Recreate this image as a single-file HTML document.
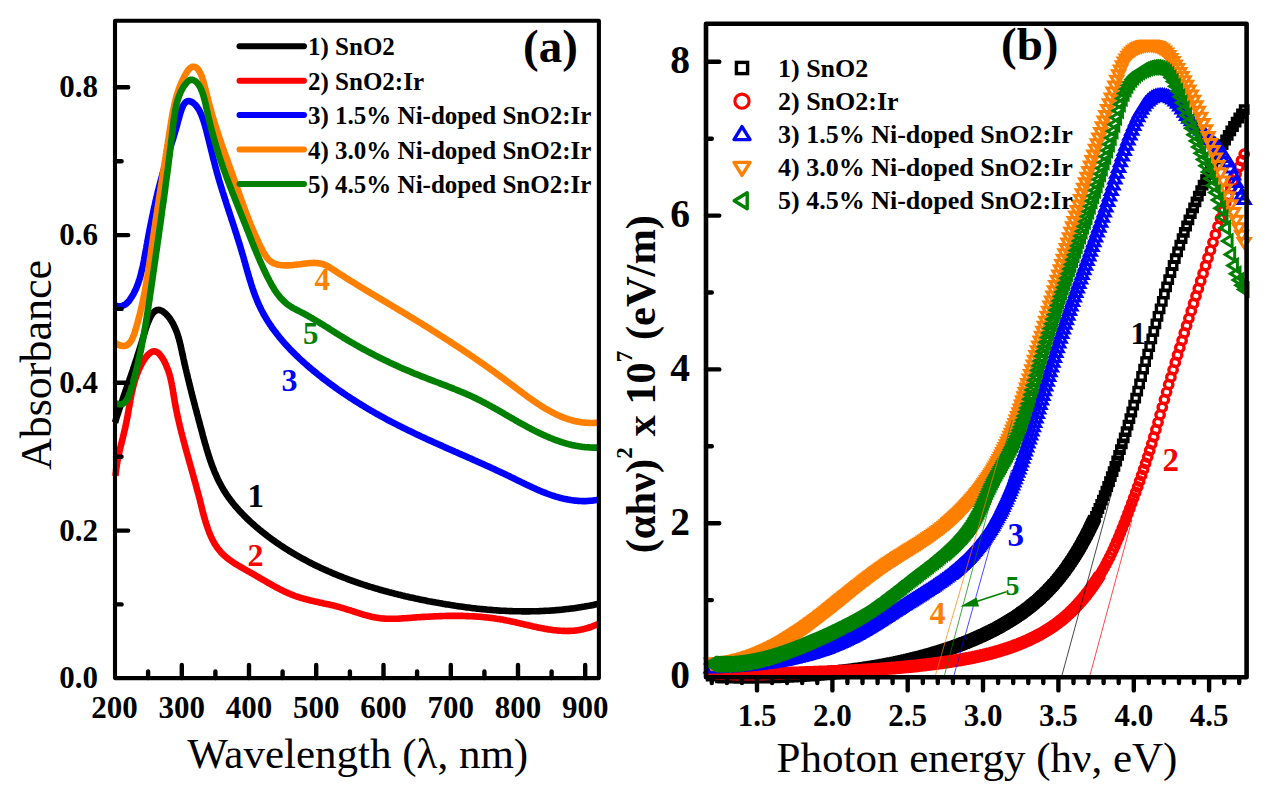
<!DOCTYPE html><html><head><meta charset="utf-8"><style>html,body{margin:0;padding:0;background:#fff;}svg{display:block;}text{font-family:"Liberation Serif",serif;}</style></head><body><svg width="1271" height="797" viewBox="0 0 1271 797"><rect width="1271" height="797" fill="#fff"/><path d="M115.0,422.6 115.5,421.1 116.0,419.5 116.4,418.0 116.9,416.5 117.4,415.0 117.9,413.6 118.4,412.1 118.8,410.7 119.3,409.2 119.8,407.8 120.3,406.4 120.7,405.0 121.2,403.6 121.7,402.2 122.2,400.8 122.6,399.5 123.1,398.1 123.6,396.7 124.0,395.4 124.5,394.0 125.0,392.7 125.4,391.3 125.9,390.0 126.4,388.7 126.8,387.3 127.3,386.0 127.8,384.6 128.3,383.3 128.7,381.9 129.2,380.6 129.7,379.2 130.1,377.9 130.6,376.5 131.1,375.2 131.5,373.8 132.0,372.4 132.5,371.0 133.0,369.6 133.4,368.2 133.9,366.8 134.4,365.4 134.9,363.9 135.3,362.5 135.8,361.0 136.3,359.6 136.8,358.1 137.3,356.6 137.7,355.1 138.2,353.6 138.7,352.0 139.2,350.4 139.7,348.9 140.2,347.3 140.7,345.7 141.2,344.0 141.7,342.4 142.2,340.7 142.7,339.0 143.2,337.3 143.7,335.6 144.2,333.9 144.7,332.2 145.2,330.5 145.7,328.8 146.3,327.2 146.8,325.6 147.4,324.1 148.0,322.5 148.6,321.1 149.2,319.7 149.8,318.4 150.4,317.1 151.1,315.9 151.7,314.8 152.4,313.8 153.1,312.9 153.9,312.1 154.6,311.4 155.4,310.9 156.2,310.4 157.0,310.1 157.8,310.0 158.7,309.9 159.6,310.0 160.5,310.3 161.5,310.7 162.4,311.2 163.4,311.8 164.3,312.6 165.3,313.4 166.3,314.3 167.2,315.4 168.2,316.4 169.1,317.6 170.0,318.8 170.8,320.1 171.7,321.4 172.5,322.7 173.2,324.1 173.9,325.5 174.6,326.9 175.2,328.3 175.8,329.8 176.4,331.3 177.0,332.8 177.5,334.3 178.0,335.8 178.4,337.3 178.9,338.8 179.3,340.4 179.7,341.9 180.1,343.5 180.5,345.0 180.8,346.6 181.2,348.2 181.5,349.7 181.9,351.3 182.2,352.8 182.5,354.4 182.9,355.9 183.2,357.5 183.5,359.0 183.9,360.5 184.2,362.0 184.5,363.6 184.9,365.1 185.2,366.6 185.6,368.1 185.9,369.5 186.3,371.0 186.6,372.5 187.0,374.0 187.3,375.4 187.7,376.9 188.0,378.3 188.4,379.8 188.7,381.2 189.1,382.7 189.4,384.1 189.8,385.6 190.1,387.0 190.5,388.4 190.9,389.9 191.2,391.3 191.6,392.7 191.9,394.1 192.3,395.6 192.7,397.0 193.0,398.4 193.4,399.8 193.8,401.2 194.1,402.6 194.5,404.0 194.9,405.4 195.2,406.9 195.6,408.3 196.0,409.7 196.4,411.1 196.7,412.5 197.1,413.9 197.5,415.3 197.9,416.7 198.2,418.2 198.6,419.6 199.0,421.0 199.4,422.4 199.8,423.8 200.1,425.3 200.5,426.7 200.9,428.1 201.3,429.5 201.7,431.0 202.1,432.4 202.5,433.9 202.8,435.3 203.2,436.8 203.6,438.2 204.0,439.6 204.4,441.1 204.8,442.5 205.2,444.0 205.7,445.4 206.1,446.9 206.5,448.3 206.9,449.8 207.4,451.2 207.8,452.7 208.2,454.1 208.7,455.6 209.2,457.0 209.6,458.4 210.1,459.9 210.6,461.3 211.1,462.7 211.6,464.1 212.1,465.6 212.7,467.0 213.2,468.4 213.8,469.8 214.3,471.2 214.9,472.6 215.5,473.9 216.1,475.3 216.7,476.7 217.3,478.0 217.9,479.4 218.6,480.7 219.3,482.1 220.0,483.4 220.7,484.7 221.4,486.0 222.1,487.3 222.8,488.6 223.6,489.9 224.4,491.2 225.2,492.4 226.0,493.7 226.8,494.9 227.7,496.1 228.5,497.4 229.4,498.6 230.3,499.8 231.2,501.0 232.1,502.1 233.0,503.3 234.0,504.5 234.9,505.6 235.9,506.8 236.9,507.9 237.9,509.0 238.9,510.1 239.9,511.3 240.9,512.4 241.9,513.4 243.0,514.5 244.0,515.6 245.1,516.7 246.1,517.7 247.2,518.8 248.3,519.8 249.4,520.8 250.5,521.9 251.6,522.9 252.7,523.9 253.9,524.9 255.0,525.9 256.1,526.9 257.3,527.8 258.4,528.8 259.6,529.8 260.8,530.7 261.9,531.7 263.1,532.6 264.3,533.5 265.5,534.4 266.7,535.4 267.8,536.3 269.0,537.2 270.2,538.1 271.4,538.9 272.6,539.8 273.9,540.7 275.1,541.6 276.3,542.4 277.5,543.3 278.8,544.1 280.0,544.9 281.2,545.8 282.5,546.6 283.7,547.4 285.0,548.2 286.2,549.0 287.5,549.8 288.7,550.6 290.0,551.4 291.3,552.2 292.5,552.9 293.8,553.7 295.1,554.4 296.4,555.2 297.7,555.9 299.0,556.7 300.3,557.4 301.6,558.1 302.9,558.8 304.2,559.5 305.5,560.2 306.8,560.9 308.1,561.6 309.4,562.3 310.8,563.0 312.1,563.7 313.4,564.3 314.7,565.0 316.1,565.6 317.4,566.3 318.8,566.9 320.1,567.6 321.5,568.2 322.8,568.8 324.2,569.4 325.5,570.0 326.9,570.6 328.2,571.2 329.6,571.8 331.0,572.4 332.3,573.0 333.7,573.6 335.1,574.2 336.5,574.7 337.9,575.3 339.2,575.8 340.6,576.4 342.0,576.9 343.4,577.5 344.8,578.0 346.2,578.5 347.6,579.1 349.0,579.6 350.4,580.1 351.8,580.6 353.2,581.1 354.6,581.6 356.0,582.1 357.4,582.6 358.9,583.1 360.3,583.6 361.7,584.0 363.1,584.5 364.5,585.0 366.0,585.4 367.4,585.9 368.8,586.3 370.3,586.8 371.7,587.2 373.1,587.6 374.6,588.1 376.0,588.5 377.5,588.9 378.9,589.3 380.3,589.8 381.8,590.2 383.2,590.6 384.7,591.0 386.1,591.4 387.6,591.8 389.0,592.2 390.5,592.5 391.9,592.9 393.4,593.3 394.8,593.7 396.3,594.0 397.8,594.4 399.2,594.8 400.7,595.1 402.2,595.5 403.6,595.8 405.1,596.2 406.5,596.5 408.0,596.8 409.5,597.2 410.9,597.5 412.4,597.8 413.9,598.1 415.4,598.5 416.8,598.8 418.3,599.1 419.8,599.4 421.2,599.7 422.7,600.0 424.2,600.3 425.7,600.6 427.1,600.9 428.6,601.2 430.1,601.4 431.6,601.7 433.0,602.0 434.5,602.3 436.0,602.6 437.5,602.8 438.9,603.1 440.4,603.3 441.9,603.6 443.4,603.9 444.9,604.1 446.3,604.4 447.8,604.6 449.3,604.8 450.8,605.1 452.3,605.3 453.7,605.5 455.2,605.8 456.7,606.0 458.2,606.2 459.7,606.4 461.1,606.6 462.6,606.8 464.1,607.0 465.6,607.2 467.1,607.4 468.6,607.6 470.0,607.8 471.5,608.0 473.0,608.2 474.5,608.3 476.0,608.5 477.5,608.7 478.9,608.8 480.4,609.0 481.9,609.1 483.4,609.3 484.9,609.4 486.4,609.5 487.8,609.7 489.3,609.8 490.8,609.9 492.3,610.0 493.8,610.2 495.3,610.3 496.8,610.4 498.3,610.5 499.7,610.6 501.2,610.7 502.7,610.7 504.2,610.8 505.7,610.9 507.2,611.0 508.7,611.0 510.1,611.1 511.6,611.1 513.1,611.2 514.6,611.2 516.1,611.3 517.6,611.3 519.1,611.3 520.6,611.3 522.1,611.4 523.5,611.4 525.0,611.4 526.5,611.4 528.0,611.4 529.5,611.4 531.0,611.3 532.5,611.3 534.0,611.3 535.5,611.2 536.9,611.2 538.4,611.2 539.9,611.1 541.4,611.0 542.9,611.0 544.4,610.9 545.9,610.8 547.4,610.7 548.9,610.7 550.3,610.6 551.8,610.5 553.3,610.4 554.8,610.2 556.3,610.1 557.8,610.0 559.3,609.9 560.8,609.7 562.3,609.6 563.8,609.4 565.2,609.3 566.7,609.1 568.2,608.9 569.7,608.7 571.2,608.5 572.7,608.4 574.2,608.2 575.7,607.9 577.2,607.7 578.6,607.5 580.1,607.3 581.6,607.1 583.1,606.8 584.6,606.6 586.1,606.3 587.6,606.0 589.1,605.8 590.6,605.5 592.0,605.2 593.5,604.9 595.0,604.6 596.5,604.3 598.0,604.0" fill="none" stroke="#000000" stroke-width="6.6" stroke-linejoin="round" stroke-linecap="butt"/><path d="M115.5,476.0 115.6,474.4 115.8,472.9 116.0,471.3 116.1,469.8 116.3,468.3 116.6,466.8 116.8,465.3 117.0,463.8 117.3,462.3 117.5,460.8 117.8,459.3 118.1,457.9 118.4,456.4 118.7,455.0 119.0,453.5 119.3,452.1 119.7,450.7 120.0,449.2 120.3,447.8 120.7,446.4 121.0,444.9 121.4,443.5 121.7,442.1 122.1,440.7 122.4,439.3 122.8,437.8 123.1,436.4 123.5,435.0 123.8,433.6 124.2,432.1 124.5,430.7 124.8,429.3 125.2,427.8 125.5,426.4 125.8,424.9 126.1,423.4 126.4,422.0 126.7,420.5 127.0,419.0 127.3,417.5 127.6,416.0 127.8,414.5 128.1,413.0 128.4,411.5 128.6,410.0 128.9,408.5 129.2,407.0 129.4,405.5 129.7,404.0 130.0,402.5 130.2,400.9 130.5,399.4 130.8,397.9 131.1,396.4 131.4,394.9 131.7,393.4 132.0,391.9 132.4,390.4 132.7,388.9 133.1,387.4 133.4,385.9 133.8,384.4 134.2,383.0 134.7,381.5 135.1,380.0 135.5,378.6 136.0,377.1 136.5,375.7 137.0,374.3 137.6,372.9 138.1,371.5 138.7,370.1 139.3,368.7 140.0,367.4 140.6,366.0 141.3,364.7 142.0,363.3 142.8,362.0 143.6,360.7 144.4,359.5 145.2,358.3 146.1,357.1 146.9,356.0 147.8,355.0 148.8,354.1 149.7,353.3 150.7,352.6 151.6,352.0 152.6,351.7 153.6,351.4 154.6,351.4 155.5,351.5 156.5,351.9 157.5,352.5 158.5,353.2 159.5,354.2 160.4,355.4 161.4,356.6 162.3,358.0 163.2,359.4 164.0,360.9 164.8,362.4 165.5,363.9 166.2,365.4 166.8,366.9 167.4,368.4 168.0,369.9 168.5,371.4 169.0,372.9 169.5,374.4 169.9,375.9 170.3,377.5 170.7,379.0 171.0,380.5 171.3,382.0 171.7,383.5 171.9,385.0 172.2,386.6 172.5,388.1 172.8,389.6 173.0,391.1 173.2,392.6 173.5,394.1 173.7,395.6 174.0,397.1 174.2,398.6 174.5,400.1 174.7,401.6 175.0,403.1 175.3,404.6 175.5,406.0 175.8,407.5 176.1,409.0 176.4,410.4 176.7,411.9 177.0,413.4 177.3,414.8 177.6,416.3 177.9,417.7 178.3,419.1 178.6,420.6 178.9,422.0 179.3,423.5 179.6,424.9 179.9,426.3 180.3,427.8 180.6,429.2 181.0,430.6 181.3,432.0 181.7,433.5 182.1,434.9 182.4,436.3 182.8,437.7 183.2,439.1 183.5,440.6 183.9,442.0 184.3,443.4 184.7,444.8 185.1,446.2 185.4,447.6 185.8,449.1 186.2,450.5 186.6,451.9 187.0,453.3 187.4,454.7 187.8,456.2 188.2,457.6 188.6,459.0 189.0,460.4 189.4,461.8 189.8,463.3 190.2,464.7 190.6,466.1 191.0,467.5 191.4,469.0 191.8,470.4 192.2,471.8 192.6,473.3 193.0,474.7 193.4,476.2 193.8,477.6 194.2,479.1 194.6,480.5 195.0,482.0 195.4,483.4 195.8,484.9 196.2,486.3 196.6,487.8 197.0,489.3 197.4,490.8 197.8,492.2 198.2,493.7 198.6,495.2 199.0,496.7 199.4,498.2 199.8,499.7 200.1,501.2 200.5,502.7 200.9,504.2 201.3,505.8 201.7,507.3 202.0,508.8 202.4,510.3 202.8,511.8 203.2,513.4 203.6,514.9 204.0,516.4 204.4,517.9 204.9,519.4 205.3,520.9 205.7,522.3 206.2,523.8 206.7,525.3 207.2,526.7 207.7,528.2 208.2,529.6 208.7,531.0 209.2,532.4 209.8,533.8 210.4,535.2 211.0,536.6 211.6,537.9 212.2,539.2 212.9,540.5 213.6,541.8 214.3,543.1 215.1,544.3 215.8,545.5 216.6,546.7 217.4,547.9 218.3,549.0 219.2,550.1 220.1,551.2 221.0,552.3 222.0,553.3 223.0,554.3 224.0,555.3 225.1,556.3 226.2,557.2 227.3,558.1 228.4,559.0 229.6,559.9 230.7,560.7 231.9,561.5 233.2,562.4 234.4,563.2 235.6,564.0 236.9,564.7 238.2,565.5 239.5,566.3 240.8,567.0 242.1,567.8 243.4,568.5 244.7,569.3 246.0,570.0 247.4,570.8 248.7,571.5 250.0,572.3 251.3,573.0 252.6,573.8 254.0,574.5 255.3,575.3 256.6,576.1 257.9,576.8 259.2,577.6 260.5,578.4 261.8,579.1 263.1,579.9 264.5,580.7 265.8,581.4 267.1,582.2 268.4,583.0 269.7,583.7 271.0,584.4 272.3,585.2 273.6,585.9 275.0,586.6 276.3,587.3 277.6,588.0 278.9,588.7 280.3,589.4 281.6,590.1 282.9,590.7 284.3,591.4 285.6,592.0 287.0,592.6 288.3,593.2 289.7,593.8 291.0,594.4 292.4,594.9 293.8,595.5 295.1,596.0 296.5,596.5 297.9,596.9 299.3,597.4 300.7,597.8 302.1,598.2 303.5,598.6 304.9,599.0 306.4,599.4 307.8,599.8 309.2,600.1 310.6,600.5 312.1,600.8 313.5,601.1 315.0,601.5 316.4,601.8 317.8,602.1 319.3,602.4 320.7,602.7 322.2,603.0 323.6,603.4 325.1,603.7 326.5,604.0 328.0,604.3 329.5,604.6 330.9,605.0 332.4,605.3 333.8,605.6 335.3,606.0 336.7,606.4 338.2,606.8 339.6,607.1 341.1,607.6 342.5,608.0 344.0,608.4 345.4,608.8 346.9,609.3 348.3,609.8 349.7,610.2 351.2,610.7 352.6,611.1 354.1,611.6 355.5,612.1 357.0,612.5 358.4,613.0 359.8,613.5 361.3,613.9 362.7,614.3 364.2,614.8 365.6,615.2 367.1,615.6 368.5,615.9 370.0,616.3 371.4,616.7 372.9,617.0 374.3,617.3 375.8,617.6 377.2,617.8 378.7,618.0 380.2,618.2 381.7,618.4 383.1,618.5 384.6,618.6 386.1,618.7 387.6,618.8 389.0,618.8 390.5,618.8 392.0,618.8 393.5,618.8 395.0,618.8 396.5,618.7 398.0,618.7 399.5,618.6 401.0,618.5 402.5,618.4 404.0,618.3 405.5,618.2 407.0,618.1 408.5,618.0 410.0,617.9 411.5,617.7 413.0,617.6 414.5,617.5 416.0,617.4 417.5,617.3 419.0,617.2 420.5,617.1 421.9,617.0 423.4,616.9 424.9,616.9 426.4,616.8 427.9,616.7 429.4,616.6 430.9,616.5 432.4,616.5 433.9,616.4 435.4,616.3 436.9,616.3 438.4,616.2 439.9,616.1 441.4,616.1 442.9,616.0 444.4,616.0 445.9,616.0 447.4,615.9 448.9,615.9 450.4,615.9 451.9,615.9 453.3,615.9 454.8,615.9 456.3,615.9 457.8,615.9 459.3,615.9 460.8,615.9 462.3,615.9 463.8,616.0 465.3,616.0 466.8,616.1 468.3,616.1 469.8,616.2 471.2,616.2 472.7,616.3 474.2,616.4 475.7,616.5 477.2,616.6 478.7,616.7 480.2,616.8 481.7,616.9 483.1,617.1 484.6,617.2 486.1,617.4 487.6,617.5 489.1,617.7 490.6,617.9 492.0,618.0 493.5,618.2 495.0,618.4 496.5,618.7 498.0,618.9 499.5,619.1 500.9,619.4 502.4,619.6 503.9,619.9 505.4,620.2 506.9,620.5 508.3,620.7 509.8,621.1 511.3,621.4 512.8,621.7 514.3,622.0 515.7,622.3 517.2,622.7 518.7,623.0 520.2,623.4 521.6,623.7 523.1,624.1 524.6,624.4 526.1,624.8 527.5,625.1 529.0,625.4 530.5,625.8 532.0,626.1 533.4,626.5 534.9,626.8 536.4,627.1 537.8,627.4 539.3,627.7 540.8,628.0 542.3,628.3 543.7,628.6 545.2,628.9 546.7,629.1 548.1,629.4 549.6,629.6 551.1,629.8 552.5,630.0 554.0,630.2 555.5,630.3 556.9,630.5 558.4,630.6 559.9,630.7 561.4,630.8 562.8,630.9 564.3,630.9 565.8,631.0 567.2,631.0 568.7,630.9 570.2,630.9 571.6,630.8 573.1,630.7 574.6,630.6 576.0,630.4 577.5,630.2 579.0,630.0 580.4,629.7 581.9,629.5 583.3,629.1 584.8,628.8 586.3,628.4 587.7,628.0 589.2,627.5 590.7,627.0 592.1,626.5 593.6,625.9 595.1,625.3 596.5,624.7 598.0,624.0" fill="none" stroke="#ff0000" stroke-width="6.6" stroke-linejoin="round" stroke-linecap="butt"/><path d="M115.0,305.4 116.9,305.9 118.6,306.2 120.2,306.2 121.7,306.0 123.0,305.6 124.3,305.0 125.5,304.3 126.6,303.4 127.6,302.4 128.6,301.4 129.5,300.2 130.3,299.0 131.1,297.8 131.9,296.6 132.7,295.3 133.4,294.1 134.1,292.8 134.7,291.4 135.4,290.1 136.0,288.8 136.6,287.4 137.1,286.0 137.6,284.7 138.2,283.3 138.6,281.9 139.1,280.4 139.6,279.0 140.0,277.6 140.4,276.1 140.8,274.6 141.2,273.2 141.5,271.7 141.9,270.2 142.2,268.7 142.6,267.3 142.9,265.8 143.2,264.3 143.5,262.8 143.8,261.3 144.1,259.8 144.3,258.3 144.6,256.8 144.9,255.2 145.2,253.8 145.4,252.3 145.7,250.8 146.0,249.3 146.3,247.8 146.5,246.3 146.8,244.8 147.1,243.3 147.3,241.9 147.6,240.4 147.9,238.9 148.2,237.4 148.4,236.0 148.7,234.5 149.0,233.0 149.3,231.6 149.5,230.1 149.8,228.6 150.1,227.2 150.4,225.7 150.7,224.3 151.0,222.8 151.3,221.3 151.6,219.9 151.9,218.4 152.2,217.0 152.5,215.5 152.8,214.1 153.1,212.6 153.4,211.1 153.7,209.7 154.0,208.2 154.3,206.8 154.7,205.3 155.0,203.9 155.3,202.4 155.6,201.0 156.0,199.5 156.3,198.0 156.7,196.6 157.0,195.1 157.4,193.7 157.7,192.2 158.1,190.7 158.5,189.3 158.8,187.8 159.2,186.3 159.6,184.8 160.0,183.4 160.4,181.9 160.8,180.4 161.2,178.9 161.6,177.5 162.0,176.0 162.4,174.5 162.8,173.0 163.2,171.6 163.7,170.1 164.1,168.7 164.5,167.2 164.9,165.7 165.3,164.3 165.8,162.9 166.2,161.4 166.6,160.0 167.0,158.6 167.5,157.2 167.9,155.8 168.3,154.4 168.7,153.0 169.2,151.6 169.6,150.2 170.0,148.9 170.4,147.5 170.8,146.2 171.2,144.8 171.6,143.5 172.0,142.2 172.4,140.8 172.9,139.5 173.3,138.1 173.7,136.8 174.1,135.4 174.5,134.0 174.9,132.6 175.3,131.1 175.8,129.7 176.2,128.2 176.6,126.6 177.1,125.1 177.5,123.5 177.9,121.8 178.4,120.1 178.9,118.4 179.3,116.7 179.8,115.0 180.3,113.2 180.9,111.6 181.4,110.0 182.0,108.4 182.6,107.0 183.2,105.6 183.9,104.5 184.6,103.4 185.4,102.5 186.2,101.8 187.1,101.4 188.0,101.1 189.0,101.1 190.0,101.3 191.1,101.7 192.1,102.2 193.1,102.8 194.0,103.6 194.9,104.4 195.8,105.3 196.6,106.3 197.4,107.4 198.1,108.5 198.9,109.7 199.6,111.0 200.2,112.4 200.9,113.7 201.5,115.2 202.1,116.7 202.6,118.2 203.2,119.7 203.7,121.3 204.2,122.9 204.7,124.6 205.2,126.2 205.6,127.9 206.1,129.5 206.5,131.2 206.9,132.8 207.3,134.4 207.7,136.1 208.1,137.7 208.5,139.2 208.9,140.8 209.3,142.4 209.7,143.9 210.0,145.4 210.4,146.9 210.8,148.4 211.1,149.9 211.5,151.3 211.9,152.8 212.2,154.2 212.6,155.7 212.9,157.1 213.3,158.5 213.6,159.9 214.0,161.3 214.4,162.7 214.7,164.1 215.1,165.5 215.4,166.9 215.8,168.3 216.2,169.7 216.6,171.1 216.9,172.5 217.3,173.8 217.7,175.2 218.1,176.6 218.5,178.0 218.9,179.4 219.3,180.8 219.7,182.2 220.1,183.6 220.6,185.0 221.0,186.4 221.4,187.8 221.9,189.2 222.3,190.6 222.7,192.0 223.2,193.4 223.6,194.8 224.1,196.2 224.5,197.6 225.0,199.0 225.4,200.4 225.9,201.8 226.3,203.2 226.8,204.7 227.2,206.1 227.7,207.5 228.2,208.9 228.6,210.3 229.1,211.7 229.6,213.2 230.0,214.6 230.5,216.0 231.0,217.4 231.4,218.9 231.9,220.3 232.4,221.7 232.8,223.2 233.3,224.6 233.8,226.0 234.2,227.5 234.7,228.9 235.2,230.3 235.6,231.8 236.1,233.2 236.6,234.7 237.0,236.1 237.5,237.6 237.9,239.0 238.4,240.4 238.8,241.9 239.3,243.3 239.7,244.8 240.2,246.3 240.6,247.7 241.0,249.2 241.5,250.6 241.9,252.1 242.3,253.6 242.8,255.0 243.2,256.5 243.6,257.9 244.0,259.4 244.4,260.9 244.9,262.3 245.3,263.8 245.7,265.3 246.1,266.8 246.5,268.2 246.9,269.7 247.3,271.2 247.7,272.6 248.2,274.1 248.6,275.5 249.0,277.0 249.4,278.4 249.9,279.9 250.3,281.3 250.8,282.8 251.2,284.2 251.7,285.7 252.2,287.1 252.6,288.5 253.1,289.9 253.6,291.4 254.1,292.8 254.6,294.2 255.1,295.6 255.7,297.0 256.2,298.3 256.8,299.7 257.3,301.1 257.9,302.5 258.5,303.8 259.1,305.2 259.8,306.5 260.4,307.8 261.0,309.2 261.7,310.5 262.4,311.8 263.1,313.1 263.8,314.4 264.5,315.7 265.3,316.9 266.0,318.2 266.8,319.5 267.5,320.7 268.3,322.0 269.1,323.2 269.9,324.4 270.8,325.6 271.6,326.9 272.4,328.1 273.3,329.3 274.2,330.5 275.1,331.6 276.0,332.8 276.9,334.0 277.8,335.1 278.7,336.3 279.6,337.5 280.6,338.6 281.5,339.7 282.5,340.9 283.5,342.0 284.4,343.1 285.4,344.2 286.4,345.3 287.4,346.4 288.5,347.5 289.5,348.6 290.5,349.7 291.6,350.7 292.6,351.8 293.7,352.9 294.7,353.9 295.8,355.0 296.9,356.0 298.0,357.0 299.0,358.1 300.1,359.1 301.2,360.1 302.3,361.1 303.5,362.1 304.6,363.1 305.7,364.1 306.8,365.1 308.0,366.1 309.1,367.1 310.3,368.1 311.4,369.0 312.6,370.0 313.7,371.0 314.9,371.9 316.1,372.9 317.2,373.8 318.4,374.8 319.6,375.7 320.8,376.6 321.9,377.6 323.1,378.5 324.3,379.4 325.5,380.3 326.7,381.2 327.9,382.1 329.1,383.0 330.3,383.9 331.5,384.8 332.8,385.7 334.0,386.6 335.2,387.5 336.4,388.3 337.6,389.2 338.9,390.1 340.1,390.9 341.3,391.8 342.6,392.6 343.8,393.5 345.1,394.3 346.3,395.2 347.6,396.0 348.8,396.8 350.1,397.7 351.3,398.5 352.6,399.3 353.9,400.1 355.1,400.9 356.4,401.7 357.7,402.5 358.9,403.3 360.2,404.1 361.5,404.9 362.8,405.7 364.1,406.4 365.3,407.2 366.6,408.0 367.9,408.8 369.2,409.5 370.5,410.3 371.8,411.0 373.1,411.8 374.4,412.5 375.7,413.3 377.0,414.0 378.3,414.7 379.6,415.5 380.9,416.2 382.3,416.9 383.6,417.6 384.9,418.3 386.2,419.1 387.5,419.8 388.8,420.5 390.2,421.2 391.5,421.9 392.8,422.6 394.1,423.2 395.5,423.9 396.8,424.6 398.1,425.3 399.5,426.0 400.8,426.6 402.1,427.3 403.5,428.0 404.8,428.6 406.2,429.3 407.5,429.9 408.8,430.6 410.2,431.2 411.5,431.9 412.9,432.5 414.2,433.2 415.6,433.8 416.9,434.5 418.3,435.1 419.6,435.7 421.0,436.4 422.3,437.0 423.7,437.6 425.0,438.2 426.4,438.9 427.7,439.5 429.1,440.1 430.5,440.7 431.8,441.3 433.2,442.0 434.5,442.6 435.9,443.2 437.3,443.8 438.6,444.4 440.0,445.0 441.4,445.6 442.7,446.2 444.1,446.8 445.4,447.5 446.8,448.1 448.2,448.7 449.6,449.3 450.9,449.9 452.3,450.5 453.7,451.1 455.0,451.7 456.4,452.3 457.8,452.9 459.1,453.5 460.5,454.1 461.9,454.7 463.2,455.3 464.6,455.9 466.0,456.5 467.4,457.1 468.7,457.7 470.1,458.3 471.5,458.9 472.8,459.5 474.2,460.2 475.6,460.8 477.0,461.4 478.3,462.0 479.7,462.6 481.1,463.2 482.4,463.8 483.8,464.4 485.2,465.1 486.5,465.7 487.9,466.3 489.3,466.9 490.7,467.5 492.0,468.2 493.4,468.8 494.8,469.4 496.1,470.1 497.5,470.7 498.9,471.3 500.2,472.0 501.6,472.6 503.0,473.2 504.3,473.9 505.7,474.5 507.1,475.2 508.4,475.8 509.8,476.5 511.1,477.2 512.5,477.8 513.9,478.5 515.2,479.2 516.6,479.8 517.9,480.5 519.3,481.1 520.7,481.8 522.0,482.5 523.4,483.1 524.7,483.8 526.1,484.5 527.5,485.1 528.8,485.7 530.2,486.4 531.6,487.0 532.9,487.7 534.3,488.3 535.7,488.9 537.0,489.5 538.4,490.1 539.8,490.7 541.2,491.3 542.6,491.8 543.9,492.4 545.3,492.9 546.7,493.5 548.1,494.0 549.5,494.5 550.9,495.0 552.3,495.5 553.7,495.9 555.1,496.4 556.5,496.8 557.9,497.2 559.3,497.6 560.8,498.0 562.2,498.3 563.6,498.7 565.1,499.0 566.5,499.3 567.9,499.6 569.4,499.8 570.8,500.1 572.3,500.3 573.8,500.5 575.2,500.6 576.7,500.8 578.2,500.9 579.7,501.0 581.2,501.0 582.7,501.1 584.2,501.1 585.7,501.1 587.2,501.0 588.7,500.9 590.3,500.8 591.8,500.7 593.3,500.5 594.9,500.3 596.4,500.1 598.0,499.8" fill="none" stroke="#0000ff" stroke-width="6.6" stroke-linejoin="round" stroke-linecap="butt"/><path d="M115.0,342.7 116.7,343.8 118.3,344.7 119.9,345.3 121.3,345.8 122.6,346.0 123.9,346.0 125.0,345.8 126.1,345.5 127.1,345.0 128.1,344.3 129.0,343.6 129.8,342.6 130.6,341.6 131.3,340.5 132.0,339.3 132.6,338.0 133.2,336.6 133.7,335.2 134.3,333.7 134.8,332.2 135.3,330.6 135.7,329.1 136.2,327.6 136.6,326.0 137.1,324.5 137.5,323.0 137.9,321.4 138.3,319.9 138.7,318.4 139.1,316.9 139.5,315.3 139.9,313.8 140.3,312.3 140.6,310.8 141.0,309.3 141.4,307.8 141.7,306.3 142.0,304.8 142.4,303.3 142.7,301.8 143.0,300.3 143.3,298.8 143.6,297.4 143.9,295.9 144.2,294.4 144.5,292.9 144.8,291.4 145.1,290.0 145.3,288.5 145.6,287.0 145.9,285.5 146.1,284.1 146.4,282.6 146.6,281.1 146.9,279.7 147.1,278.2 147.4,276.7 147.6,275.3 147.8,273.8 148.1,272.4 148.3,270.9 148.5,269.4 148.7,268.0 149.0,266.5 149.2,265.1 149.4,263.6 149.6,262.1 149.8,260.7 150.0,259.2 150.2,257.8 150.5,256.3 150.7,254.9 150.9,253.4 151.1,251.9 151.3,250.5 151.5,249.0 151.7,247.6 151.9,246.1 152.1,244.6 152.4,243.2 152.6,241.7 152.8,240.2 153.0,238.8 153.2,237.3 153.4,235.8 153.6,234.4 153.9,232.9 154.1,231.4 154.3,230.0 154.5,228.5 154.7,227.0 155.0,225.6 155.2,224.1 155.4,222.6 155.6,221.1 155.8,219.7 156.1,218.2 156.3,216.7 156.5,215.2 156.7,213.8 157.0,212.3 157.2,210.8 157.4,209.3 157.6,207.9 157.9,206.4 158.1,204.9 158.3,203.4 158.6,201.9 158.8,200.5 159.0,199.0 159.2,197.5 159.5,196.0 159.7,194.5 159.9,193.0 160.2,191.6 160.4,190.1 160.6,188.6 160.9,187.1 161.1,185.6 161.3,184.1 161.6,182.6 161.8,181.2 162.0,179.7 162.3,178.2 162.5,176.7 162.7,175.2 163.0,173.7 163.2,172.2 163.4,170.7 163.7,169.2 163.9,167.7 164.1,166.3 164.4,164.8 164.6,163.3 164.8,161.8 165.1,160.3 165.3,158.8 165.6,157.3 165.8,155.8 166.0,154.3 166.3,152.8 166.5,151.3 166.7,149.8 167.0,148.3 167.2,146.8 167.4,145.3 167.7,143.8 167.9,142.4 168.1,140.9 168.4,139.4 168.6,137.9 168.8,136.4 169.1,134.9 169.3,133.4 169.6,131.9 169.8,130.4 170.0,128.9 170.3,127.4 170.5,125.9 170.7,124.4 171.0,122.9 171.2,121.4 171.5,119.9 171.7,118.4 172.0,116.9 172.2,115.4 172.5,113.9 172.8,112.5 173.1,111.0 173.4,109.5 173.7,108.0 174.0,106.6 174.3,105.1 174.6,103.6 175.0,102.2 175.3,100.7 175.7,99.3 176.1,97.8 176.5,96.4 176.9,94.9 177.4,93.5 177.8,92.1 178.3,90.6 178.8,89.2 179.3,87.8 179.8,86.4 180.4,85.0 181.0,83.6 181.5,82.3 182.2,80.9 182.8,79.5 183.5,78.2 184.2,76.8 184.9,75.5 185.6,74.2 186.4,72.8 187.2,71.6 188.0,70.4 188.8,69.4 189.7,68.5 190.6,67.7 191.4,67.2 192.3,66.8 193.2,66.7 194.1,66.8 195.0,67.0 195.8,67.4 196.6,67.9 197.4,68.6 198.1,69.4 198.8,70.3 199.4,71.4 200.1,72.5 200.7,73.7 201.2,75.1 201.8,76.5 202.3,78.0 202.8,79.5 203.3,81.1 203.8,82.8 204.2,84.4 204.7,86.2 205.1,87.9 205.6,89.7 206.0,91.4 206.4,93.2 206.9,95.0 207.3,96.7 207.7,98.5 208.2,100.2 208.6,101.8 209.0,103.5 209.5,105.2 209.9,106.8 210.4,108.4 210.8,110.0 211.2,111.6 211.7,113.2 212.1,114.7 212.6,116.3 213.0,117.8 213.5,119.3 213.9,120.8 214.4,122.3 214.9,123.8 215.3,125.3 215.8,126.7 216.2,128.1 216.7,129.6 217.2,131.0 217.6,132.4 218.1,133.8 218.5,135.2 219.0,136.6 219.5,138.0 220.0,139.4 220.4,140.7 220.9,142.1 221.4,143.5 221.8,144.8 222.3,146.2 222.8,147.5 223.3,148.9 223.7,150.2 224.2,151.5 224.7,152.9 225.2,154.2 225.6,155.5 226.1,156.9 226.6,158.2 227.1,159.5 227.6,160.9 228.0,162.2 228.5,163.6 229.0,164.9 229.5,166.2 230.0,167.6 230.5,168.9 230.9,170.3 231.4,171.6 231.9,173.0 232.4,174.4 232.9,175.8 233.4,177.1 233.8,178.5 234.3,179.9 234.8,181.3 235.3,182.7 235.8,184.1 236.3,185.5 236.8,186.9 237.3,188.3 237.8,189.8 238.3,191.2 238.8,192.6 239.3,194.0 239.8,195.5 240.3,196.9 240.8,198.3 241.3,199.8 241.8,201.2 242.3,202.6 242.9,204.1 243.4,205.5 243.9,206.9 244.4,208.4 245.0,209.8 245.5,211.3 246.0,212.7 246.6,214.1 247.1,215.6 247.7,217.0 248.3,218.4 248.8,219.9 249.4,221.3 250.0,222.8 250.5,224.2 251.1,225.6 251.7,227.0 252.3,228.5 252.9,229.9 253.5,231.3 254.1,232.7 254.7,234.1 255.4,235.5 256.0,236.9 256.6,238.3 257.3,239.7 257.9,241.1 258.6,242.5 259.2,243.9 259.9,245.3 260.6,246.7 261.3,248.0 262.0,249.4 262.7,250.7 263.4,252.1 264.1,253.4 264.9,254.6 265.7,255.9 266.5,257.0 267.4,258.2 268.3,259.2 269.2,260.2 270.3,261.1 271.3,261.9 272.5,262.6 273.7,263.2 274.9,263.7 276.2,264.1 277.5,264.5 278.9,264.8 280.3,265.0 281.7,265.2 283.2,265.3 284.7,265.4 286.2,265.4 287.8,265.4 289.3,265.3 290.9,265.2 292.5,265.1 294.1,264.9 295.7,264.8 297.3,264.6 298.8,264.4 300.4,264.2 302.0,264.0 303.5,263.8 305.1,263.6 306.6,263.4 308.1,263.2 309.6,263.1 311.1,263.0 312.6,263.0 314.0,262.9 315.4,263.0 316.9,263.0 318.3,263.2 319.7,263.4 321.0,263.6 322.4,264.0 323.7,264.4 325.0,264.9 326.3,265.5 327.6,266.2 328.9,266.9 330.2,267.7 331.4,268.5 332.7,269.3 333.9,270.1 335.2,270.9 336.4,271.8 337.7,272.6 339.0,273.4 340.2,274.2 341.5,275.0 342.8,275.8 344.0,276.6 345.3,277.5 346.6,278.3 347.9,279.1 349.1,279.9 350.4,280.7 351.7,281.5 353.0,282.2 354.2,283.0 355.5,283.8 356.8,284.6 358.1,285.4 359.4,286.2 360.6,287.0 361.9,287.8 363.2,288.5 364.5,289.3 365.8,290.1 367.1,290.9 368.4,291.7 369.6,292.4 370.9,293.2 372.2,294.0 373.5,294.7 374.8,295.5 376.1,296.3 377.4,297.1 378.7,297.8 380.0,298.6 381.2,299.4 382.5,300.1 383.8,300.9 385.1,301.7 386.4,302.4 387.7,303.2 389.0,304.0 390.3,304.7 391.6,305.5 392.8,306.3 394.1,307.0 395.4,307.8 396.7,308.6 398.0,309.4 399.3,310.1 400.6,310.9 401.8,311.7 403.1,312.4 404.4,313.2 405.7,314.0 407.0,314.7 408.2,315.5 409.5,316.3 410.8,317.1 412.1,317.8 413.3,318.6 414.6,319.4 415.9,320.2 417.2,321.0 418.4,321.7 419.7,322.5 421.0,323.3 422.2,324.1 423.5,324.9 424.8,325.7 426.0,326.4 427.3,327.2 428.6,328.0 429.8,328.8 431.1,329.6 432.3,330.4 433.6,331.2 434.9,332.0 436.1,332.8 437.4,333.6 438.6,334.4 439.9,335.2 441.1,336.0 442.4,336.8 443.6,337.6 444.9,338.4 446.2,339.2 447.4,340.0 448.7,340.8 449.9,341.6 451.2,342.4 452.4,343.2 453.6,344.1 454.9,344.9 456.1,345.7 457.4,346.5 458.6,347.3 459.9,348.2 461.1,349.0 462.4,349.8 463.6,350.6 464.8,351.5 466.1,352.3 467.3,353.1 468.5,354.0 469.8,354.8 471.0,355.7 472.3,356.5 473.5,357.3 474.7,358.2 476.0,359.0 477.2,359.9 478.4,360.7 479.7,361.6 480.9,362.5 482.1,363.3 483.4,364.2 484.6,365.0 485.8,365.9 487.0,366.8 488.3,367.6 489.5,368.5 490.7,369.4 491.9,370.3 493.2,371.1 494.4,372.0 495.6,372.9 496.8,373.8 498.1,374.7 499.3,375.6 500.5,376.5 501.7,377.4 503.0,378.2 504.2,379.1 505.4,380.1 506.6,381.0 507.8,381.9 509.1,382.8 510.3,383.7 511.5,384.6 512.7,385.5 513.9,386.4 515.1,387.4 516.4,388.3 517.6,389.2 518.8,390.1 520.0,391.0 521.2,391.9 522.5,392.9 523.7,393.8 524.9,394.7 526.1,395.6 527.4,396.5 528.6,397.4 529.8,398.2 531.1,399.1 532.3,400.0 533.5,400.9 534.8,401.7 536.0,402.6 537.3,403.4 538.5,404.2 539.8,405.0 541.0,405.9 542.3,406.6 543.6,407.4 544.8,408.2 546.1,409.0 547.4,409.7 548.7,410.4 550.0,411.1 551.3,411.8 552.6,412.5 553.9,413.2 555.2,413.9 556.5,414.5 557.8,415.1 559.2,415.7 560.5,416.3 561.8,416.8 563.2,417.4 564.5,417.9 565.9,418.4 567.3,418.8 568.6,419.3 570.0,419.7 571.4,420.1 572.8,420.5 574.2,420.9 575.6,421.2 577.1,421.5 578.5,421.8 579.9,422.0 581.4,422.2 582.9,422.4 584.3,422.6 585.8,422.7 587.3,422.8 588.8,422.9 590.3,423.0 591.8,423.0 593.4,423.0 594.9,422.9 596.4,422.8 598.0,422.7" fill="none" stroke="#ff8000" stroke-width="6.6" stroke-linejoin="round" stroke-linecap="butt"/><path d="M115.0,403.0 116.6,403.7 118.0,404.1 119.4,404.3 120.6,404.3 121.8,404.1 122.9,403.7 123.8,403.1 124.7,402.4 125.6,401.5 126.4,400.5 127.1,399.4 127.7,398.2 128.4,396.9 128.9,395.5 129.5,394.0 130.0,392.6 130.5,391.0 130.9,389.5 131.4,388.0 131.8,386.4 132.3,384.9 132.7,383.4 133.2,381.9 133.6,380.3 134.0,378.8 134.4,377.3 134.8,375.8 135.2,374.3 135.6,372.8 136.0,371.3 136.4,369.8 136.7,368.3 137.1,366.8 137.5,365.3 137.8,363.8 138.2,362.3 138.5,360.8 138.8,359.3 139.2,357.9 139.5,356.4 139.8,354.9 140.1,353.4 140.5,352.0 140.8,350.5 141.1,349.0 141.4,347.6 141.7,346.1 141.9,344.6 142.2,343.2 142.5,341.7 142.8,340.2 143.1,338.8 143.3,337.3 143.6,335.9 143.9,334.4 144.1,332.9 144.4,331.5 144.6,330.0 144.9,328.6 145.1,327.1 145.4,325.7 145.6,324.2 145.9,322.8 146.1,321.3 146.3,319.9 146.6,318.4 146.8,316.9 147.0,315.5 147.3,314.0 147.5,312.6 147.7,311.1 147.9,309.7 148.2,308.2 148.4,306.7 148.6,305.3 148.8,303.8 149.0,302.4 149.3,300.9 149.5,299.4 149.7,298.0 149.9,296.5 150.1,295.0 150.3,293.6 150.5,292.1 150.8,290.6 151.0,289.1 151.2,287.7 151.4,286.2 151.6,284.7 151.8,283.2 152.0,281.7 152.3,280.3 152.5,278.8 152.7,277.3 152.9,275.8 153.1,274.3 153.3,272.8 153.5,271.3 153.8,269.8 154.0,268.3 154.2,266.8 154.4,265.3 154.6,263.8 154.8,262.4 155.1,260.9 155.3,259.4 155.5,257.9 155.7,256.4 155.9,254.9 156.1,253.4 156.3,251.9 156.6,250.4 156.8,248.9 157.0,247.4 157.2,245.9 157.4,244.4 157.6,242.9 157.8,241.4 158.0,239.9 158.3,238.4 158.5,236.9 158.7,235.4 158.9,233.9 159.1,232.4 159.3,230.9 159.5,229.4 159.7,227.9 159.9,226.4 160.2,224.9 160.4,223.4 160.6,221.9 160.8,220.4 161.0,218.9 161.2,217.5 161.4,216.0 161.6,214.5 161.8,213.0 162.0,211.5 162.2,210.0 162.4,208.6 162.6,207.1 162.8,205.6 163.0,204.2 163.3,202.7 163.5,201.2 163.7,199.8 163.9,198.3 164.1,196.8 164.3,195.4 164.5,193.9 164.7,192.5 164.9,191.0 165.1,189.5 165.3,188.1 165.4,186.6 165.6,185.2 165.8,183.7 166.0,182.3 166.2,180.8 166.4,179.4 166.6,177.9 166.8,176.5 167.0,175.0 167.2,173.5 167.4,172.1 167.6,170.6 167.8,169.2 168.0,167.7 168.2,166.2 168.3,164.8 168.5,163.3 168.7,161.8 168.9,160.4 169.1,158.9 169.3,157.4 169.5,155.9 169.7,154.4 169.8,152.9 170.0,151.5 170.2,150.0 170.4,148.5 170.6,146.9 170.8,145.4 171.0,143.9 171.1,142.4 171.3,140.9 171.5,139.4 171.7,137.8 171.9,136.3 172.1,134.7 172.2,133.2 172.4,131.6 172.6,130.1 172.8,128.5 173.0,126.9 173.1,125.4 173.3,123.8 173.5,122.2 173.7,120.6 173.9,119.0 174.1,117.5 174.4,115.9 174.6,114.3 174.9,112.8 175.1,111.2 175.4,109.7 175.7,108.2 176.0,106.6 176.4,105.1 176.7,103.6 177.1,102.2 177.5,100.7 177.9,99.3 178.4,97.9 178.9,96.5 179.4,95.1 180.0,93.8 180.5,92.4 181.1,91.1 181.8,89.9 182.5,88.6 183.2,87.4 183.9,86.2 184.7,85.1 185.6,84.0 186.5,82.9 187.4,81.9 188.4,81.0 189.3,80.3 190.3,79.9 191.3,79.7 192.3,79.8 193.3,80.1 194.3,80.6 195.2,81.1 196.0,81.7 196.8,82.5 197.6,83.3 198.3,84.3 199.0,85.3 199.7,86.4 200.3,87.6 200.9,88.8 201.4,90.1 202.0,91.5 202.5,92.9 203.0,94.4 203.5,95.9 203.9,97.5 204.3,99.1 204.8,100.7 205.2,102.3 205.6,104.0 206.0,105.7 206.3,107.4 206.7,109.1 207.1,110.9 207.5,112.6 207.8,114.3 208.2,116.0 208.6,117.7 209.0,119.3 209.4,121.0 209.8,122.6 210.2,124.3 210.6,125.9 211.0,127.5 211.4,129.1 211.8,130.7 212.2,132.3 212.6,133.8 213.1,135.4 213.5,136.9 213.9,138.5 214.3,140.0 214.8,141.5 215.2,143.0 215.7,144.5 216.1,146.0 216.5,147.5 217.0,149.0 217.5,150.4 217.9,151.9 218.4,153.3 218.8,154.8 219.3,156.2 219.8,157.7 220.2,159.1 220.7,160.5 221.2,161.9 221.7,163.3 222.1,164.7 222.6,166.1 223.1,167.5 223.6,168.9 224.1,170.3 224.6,171.6 225.1,173.0 225.6,174.4 226.1,175.7 226.6,177.1 227.1,178.5 227.6,179.8 228.1,181.2 228.6,182.5 229.1,183.9 229.6,185.2 230.1,186.5 230.7,187.9 231.2,189.2 231.7,190.6 232.2,191.9 232.7,193.2 233.3,194.6 233.8,195.9 234.3,197.2 234.8,198.6 235.4,199.9 235.9,201.3 236.4,202.6 237.0,203.9 237.5,205.3 238.1,206.6 238.6,208.0 239.1,209.3 239.7,210.7 240.2,212.0 240.8,213.4 241.3,214.7 241.8,216.1 242.4,217.4 242.9,218.8 243.5,220.2 244.0,221.6 244.6,222.9 245.1,224.3 245.7,225.7 246.2,227.1 246.8,228.5 247.3,229.9 247.9,231.3 248.5,232.7 249.0,234.1 249.6,235.6 250.1,237.0 250.7,238.4 251.3,239.8 251.8,241.2 252.4,242.7 253.0,244.1 253.5,245.5 254.1,247.0 254.7,248.4 255.3,249.8 255.9,251.2 256.5,252.7 257.1,254.1 257.7,255.5 258.3,256.9 258.9,258.3 259.5,259.8 260.1,261.2 260.7,262.6 261.4,264.0 262.0,265.4 262.6,266.8 263.3,268.2 263.9,269.6 264.6,271.0 265.2,272.3 265.9,273.7 266.5,275.1 267.2,276.4 267.9,277.8 268.6,279.1 269.3,280.5 270.0,281.8 270.7,283.1 271.4,284.4 272.2,285.7 272.9,287.0 273.7,288.3 274.4,289.6 275.2,290.8 276.1,292.0 276.9,293.2 277.8,294.4 278.7,295.5 279.6,296.7 280.5,297.8 281.5,298.8 282.5,299.9 283.5,300.9 284.5,301.9 285.6,302.8 286.7,303.8 287.9,304.7 289.1,305.5 290.3,306.3 291.6,307.1 292.9,307.9 294.2,308.6 295.6,309.3 296.9,310.0 298.3,310.7 299.6,311.4 301.0,312.1 302.3,312.8 303.7,313.5 305.0,314.3 306.4,315.0 307.7,315.7 309.0,316.5 310.3,317.2 311.6,318.0 312.9,318.7 314.2,319.5 315.5,320.3 316.8,321.0 318.1,321.8 319.3,322.6 320.6,323.4 321.9,324.2 323.2,324.9 324.4,325.7 325.7,326.5 327.0,327.3 328.2,328.1 329.5,328.9 330.7,329.7 332.0,330.5 333.2,331.3 334.5,332.1 335.8,332.9 337.0,333.7 338.3,334.4 339.5,335.2 340.8,336.0 342.1,336.8 343.3,337.6 344.6,338.4 345.9,339.1 347.2,339.9 348.4,340.7 349.7,341.4 351.0,342.2 352.3,342.9 353.6,343.7 354.9,344.4 356.2,345.2 357.5,345.9 358.8,346.6 360.1,347.4 361.4,348.1 362.7,348.8 364.0,349.5 365.3,350.2 366.6,350.9 367.9,351.6 369.3,352.3 370.6,353.0 371.9,353.7 373.3,354.4 374.6,355.1 375.9,355.8 377.3,356.5 378.6,357.1 379.9,357.8 381.3,358.5 382.6,359.1 384.0,359.8 385.3,360.4 386.7,361.1 388.0,361.7 389.4,362.4 390.7,363.0 392.1,363.6 393.4,364.3 394.8,364.9 396.2,365.5 397.5,366.1 398.9,366.7 400.3,367.4 401.6,368.0 403.0,368.6 404.4,369.2 405.8,369.8 407.1,370.3 408.5,370.9 409.9,371.5 411.3,372.1 412.7,372.7 414.0,373.3 415.4,373.8 416.8,374.4 418.2,374.9 419.6,375.5 421.0,376.1 422.4,376.6 423.8,377.2 425.1,377.7 426.5,378.2 427.9,378.8 429.3,379.3 430.7,379.9 432.1,380.4 433.5,380.9 434.9,381.5 436.3,382.0 437.7,382.5 439.1,383.0 440.5,383.6 441.8,384.1 443.2,384.6 444.6,385.2 446.0,385.7 447.4,386.2 448.8,386.8 450.2,387.3 451.6,387.9 452.9,388.4 454.3,389.0 455.7,389.5 457.1,390.1 458.4,390.6 459.8,391.2 461.2,391.8 462.6,392.3 463.9,392.9 465.3,393.5 466.6,394.1 468.0,394.7 469.4,395.3 470.7,395.9 472.1,396.6 473.4,397.2 474.7,397.8 476.1,398.5 477.4,399.1 478.7,399.8 480.1,400.4 481.4,401.1 482.7,401.8 484.0,402.5 485.3,403.2 486.7,403.9 488.0,404.6 489.3,405.3 490.6,406.0 491.9,406.8 493.2,407.5 494.5,408.2 495.8,409.0 497.1,409.7 498.4,410.4 499.7,411.2 501.0,411.9 502.3,412.7 503.6,413.4 504.9,414.2 506.2,415.0 507.5,415.7 508.8,416.5 510.1,417.2 511.4,418.0 512.7,418.7 514.1,419.5 515.4,420.3 516.7,421.0 518.0,421.8 519.3,422.5 520.7,423.2 522.0,424.0 523.3,424.7 524.6,425.4 526.0,426.2 527.3,426.9 528.6,427.6 530.0,428.3 531.3,429.0 532.7,429.7 534.0,430.4 535.4,431.1 536.7,431.8 538.1,432.4 539.4,433.1 540.8,433.7 542.1,434.4 543.5,435.0 544.9,435.6 546.2,436.2 547.6,436.8 549.0,437.4 550.4,438.0 551.8,438.5 553.2,439.1 554.5,439.6 555.9,440.1 557.3,440.7 558.7,441.1 560.1,441.6 561.5,442.1 563.0,442.5 564.4,443.0 565.8,443.4 567.2,443.8 568.6,444.2 570.1,444.5 571.5,444.9 572.9,445.2 574.4,445.5 575.8,445.8 577.3,446.0 578.7,446.3 580.2,446.5 581.6,446.7 583.1,446.9 584.6,447.1 586.0,447.2 587.5,447.3 589.0,447.4 590.5,447.5 592.0,447.6 593.5,447.6 595.0,447.6 596.5,447.6 598.0,447.5" fill="none" stroke="#008000" stroke-width="6.6" stroke-linejoin="round" stroke-linecap="butt"/><path d="M115.0,20.7H598.9V678.1H115.0Z" fill="none" stroke="#000" stroke-width="4.1" stroke-linejoin="round"/><path d="M148.1,678.1v-6.6M181.8,678.1v-13.2M215.4,678.1v-6.6M249.0,678.1v-13.2M282.6,678.1v-6.6M316.2,678.1v-13.2M349.9,678.1v-6.6M383.5,678.1v-13.2M417.1,678.1v-6.6M450.8,678.1v-13.2M484.4,678.1v-6.6M518.0,678.1v-13.2M551.6,678.1v-6.6M585.2,678.1v-13.2M115.0,604.4h6.6M115.0,530.6h13.2M115.0,456.7h6.6M115.0,382.8h13.2M115.0,308.9h6.6M115.0,235.1h13.2M115.0,161.2h6.6M115.0,87.3h13.2" stroke="#000" stroke-width="4.4" stroke-linecap="round" fill="none"/><text x="114.5" y="718" font-size="31" font-weight="bold" text-anchor="middle">200</text><text x="181.8" y="718" font-size="31" font-weight="bold" text-anchor="middle">300</text><text x="249.0" y="718" font-size="31" font-weight="bold" text-anchor="middle">400</text><text x="316.2" y="718" font-size="31" font-weight="bold" text-anchor="middle">500</text><text x="383.5" y="718" font-size="31" font-weight="bold" text-anchor="middle">600</text><text x="450.8" y="718" font-size="31" font-weight="bold" text-anchor="middle">700</text><text x="518.0" y="718" font-size="31" font-weight="bold" text-anchor="middle">800</text><text x="585.2" y="718" font-size="31" font-weight="bold" text-anchor="middle">900</text><text x="98" y="688.3" font-size="31" font-weight="bold" text-anchor="end">0.0</text><text x="98" y="540.6" font-size="31" font-weight="bold" text-anchor="end">0.2</text><text x="98" y="392.8" font-size="31" font-weight="bold" text-anchor="end">0.4</text><text x="98" y="245.1" font-size="31" font-weight="bold" text-anchor="end">0.6</text><text x="98" y="97.3" font-size="31" font-weight="bold" text-anchor="end">0.8</text><text x="357.7" y="768" font-size="43" text-anchor="middle">Wavelength (λ, nm)</text><text transform="translate(51,365) rotate(-90)" x="0" y="0" font-size="44" text-anchor="middle">Absorbance</text><path d="M239.5,46.3H304" stroke="#000000" stroke-width="6" stroke-linecap="round"/><text x="308" y="55.3" font-size="25" font-weight="bold">1) SnO2</text><path d="M239.5,80.7H304" stroke="#ff0000" stroke-width="6" stroke-linecap="round"/><text x="308" y="89.7" font-size="25" font-weight="bold">2) SnO2:Ir</text><path d="M239.5,115.1H304" stroke="#0000ff" stroke-width="6" stroke-linecap="round"/><text x="308" y="124.1" font-size="25" font-weight="bold">3) 1.5% Ni-doped SnO2:Ir</text><path d="M239.5,149.5H304" stroke="#ff8000" stroke-width="6" stroke-linecap="round"/><text x="308" y="158.5" font-size="25" font-weight="bold">4) 3.0% Ni-doped SnO2:Ir</text><path d="M239.5,183.9H304" stroke="#008000" stroke-width="6" stroke-linecap="round"/><text x="308" y="192.9" font-size="25" font-weight="bold">5) 4.5% Ni-doped SnO2:Ir</text><text x="523" y="62" font-size="47" font-weight="bold">(a)</text><text x="247.5" y="506.5" font-size="33" font-weight="bold" fill="#000000">1</text><text x="247.5" y="566.0" font-size="32" font-weight="bold" fill="#ff0000">2</text><text x="281.5" y="390.5" font-size="32" font-weight="bold" fill="#0000ff">3</text><text x="314.5" y="289.5" font-size="31" font-weight="bold" fill="#ff8000">4</text><text x="303.0" y="343.5" font-size="31" font-weight="bold" fill="#008000">5</text><path d="M715.1,676.1 716.3,676.1 717.5,676.1 718.7,676.2 719.9,676.2 721.0,676.2 722.2,676.2 723.4,676.2 724.6,676.2 725.8,676.3 726.9,676.3 728.1,676.3 729.3,676.3 730.5,676.3 731.7,676.3 732.8,676.3 734.0,676.4 735.2,676.4 736.4,676.4 737.6,676.4 738.7,676.4 739.9,676.4 741.1,676.4 742.3,676.4 743.5,676.4 744.6,676.4 745.8,676.4 747.0,676.4 748.2,676.4 749.3,676.4 750.5,676.4 751.7,676.4 752.9,676.4 754.1,676.4 755.2,676.4 756.4,676.4 757.6,676.4 758.8,676.3 759.9,676.3 761.1,676.3 762.3,676.3 763.5,676.3 764.7,676.3 765.8,676.2 767.0,676.2 768.2,676.2 769.4,676.2 770.5,676.1 771.7,676.1 772.9,676.1 774.1,676.1 775.2,676.0 776.4,676.0 777.6,676.0 778.8,675.9 779.9,675.9 781.1,675.9 782.3,675.8 783.5,675.8 784.6,675.7 785.8,675.7 787.0,675.7 788.2,675.6 789.3,675.6 790.5,675.5 791.7,675.5 792.9,675.4 794.0,675.4 795.2,675.3 796.4,675.2 797.6,675.2 798.7,675.1 799.9,675.1 801.1,675.0 802.2,674.9 803.4,674.9 804.6,674.8 805.8,674.7 806.9,674.6 808.1,674.6 809.3,674.5 810.4,674.4 811.6,674.3 812.8,674.3 814.0,674.2 815.1,674.1 816.3,674.0 817.5,673.9 818.6,673.8 819.8,673.7 821.0,673.6 822.1,673.5 823.3,673.4 824.5,673.3 825.6,673.2 826.8,673.1 828.0,673.0 829.2,672.9 830.3,672.8 831.5,672.7 832.7,672.6 833.8,672.5 835.0,672.4 836.2,672.2 837.3,672.1 838.5,672.0 839.7,671.9 840.8,671.7 842.0,671.6 843.2,671.5 844.3,671.3 845.5,671.2 846.7,671.1 847.8,670.9 849.0,670.8 850.2,670.6 851.3,670.5 852.5,670.3 853.6,670.2 854.8,670.0 856.0,669.9 857.1,669.7 858.3,669.6 859.5,669.4 860.6,669.2 861.8,669.1 863.0,668.9 864.1,668.7 865.3,668.5 866.4,668.4 867.6,668.2 868.8,668.0 869.9,667.8 871.1,667.6 872.2,667.4 873.4,667.2 874.6,667.1 875.7,666.9 876.9,666.7 878.0,666.5 879.2,666.2 880.4,666.0 881.5,665.8 882.7,665.6 883.8,665.4 885.0,665.2 886.2,665.0 887.3,664.7 888.5,664.5 889.6,664.3 890.8,664.1 891.9,663.8 893.1,663.6 894.3,663.4 895.4,663.1 896.6,662.9 897.7,662.6 898.9,662.4 900.0,662.1 901.2,661.9 902.3,661.6 903.5,661.3 904.7,661.1 905.8,660.8 907.0,660.6 908.1,660.3 909.3,660.0 910.4,659.7 911.6,659.4 912.7,659.2 913.9,658.9 915.0,658.6 916.2,658.3 917.3,658.0 918.5,657.7 919.6,657.4 920.8,657.1 921.9,656.8 923.1,656.5 924.2,656.2 925.4,655.9 926.5,655.5 927.7,655.2 928.8,654.9 930.0,654.6 931.1,654.2 932.3,653.9 933.4,653.6 934.6,653.2 935.7,652.9 936.9,652.5 938.0,652.2 939.1,651.8 940.3,651.5 941.4,651.1 942.6,650.7 943.7,650.4 944.8,650.0 946.0,649.6 947.1,649.2 948.2,648.9 949.4,648.5 950.5,648.1 951.6,647.7 952.8,647.3 953.9,646.9 955.0,646.5 956.1,646.1 957.3,645.7 958.4,645.3 959.5,644.9 960.6,644.4 961.7,644.0 962.9,643.6 964.0,643.2 965.1,642.7 966.2,642.3 967.3,641.8 968.4,641.4 969.5,641.0 970.6,640.5 971.7,640.0 972.8,639.6 973.9,639.1 975.0,638.6 976.1,638.2 977.2,637.7 978.3,637.2 979.3,636.7 980.4,636.2 981.5,635.7 982.6,635.3 983.7,634.7 984.7,634.2 985.8,633.7 986.9,633.2 987.9,632.7 989.0,632.2 990.0,631.7 991.1,631.1 992.1,630.6 993.2,630.1 994.2,629.5 995.3,629.0 996.3,628.4 997.4,627.9 998.4,627.3 999.4,626.7 1000.4,626.2 1001.5,625.6 1002.5,625.0 1003.5,624.4 1004.5,623.8 1005.5,623.2 1006.5,622.6 1007.5,622.0 1008.5,621.4 1009.5,620.8 1010.5,620.2 1011.5,619.6 1012.5,619.0 1013.5,618.4 1014.5,617.7 1015.4,617.1 1016.4,616.4 1017.4,615.8 1018.3,615.1 1019.3,614.5 1020.2,613.8 1021.2,613.2 1022.1,612.5 1023.1,611.8 1024.0,611.1 1024.9,610.4 1025.9,609.8 1026.8,609.1 1027.7,608.4 1028.6,607.7 1029.5,606.9 1030.4,606.2 1031.3,605.5 1032.2,604.8 1033.1,604.1 1034.0,603.3 1034.9,602.6 1035.8,601.8 1036.6,601.1 1037.5,600.3 1038.4,599.6 1039.2,598.8 1040.1,598.0 1040.9,597.2 1041.7,596.5 1042.6,595.7 1043.4,594.9 1044.2,594.1 1045.1,593.3 1045.9,592.5 1046.7,591.7 1047.5,590.8 1048.3,590.0 1049.1,589.2 1049.9,588.4 1050.6,587.5 1051.4,586.7 1052.2,585.8 1053.0,585.0 1053.7,584.1 1054.5,583.2 1055.2,582.4 1056.0,581.5 1056.7,580.6 1057.5,579.7 1058.2,578.8 1058.9,578.0 1059.6,577.1 1060.4,576.2 1061.1,575.2 1061.8,574.3 1062.5,573.4 1063.2,572.5 1063.9,571.6 1064.6,570.7 1065.3,569.7 1065.9,568.8 1066.6,567.8 1067.3,566.9 1068.0,566.0 1068.6,565.0 1069.3,564.0 1069.9,563.1 1070.6,562.1 1071.2,561.2 1071.9,560.2 1072.5,559.2 1073.1,558.2 1073.8,557.2 1074.4,556.3 1075.0,555.3 1075.6,554.3 1076.2,553.3 1076.9,552.3 1077.5,551.3 1078.1,550.3 1078.7,549.3 1079.3,548.3 1079.8,547.2 1080.4,546.2 1081.0,545.2 1081.6,544.2 1082.2,543.1 1082.7,542.1 1083.3,541.1 1083.9,540.0 1084.4,539.0 1085.0,538.0 1085.5,536.9 1086.1,535.9 1086.6,534.8 1087.2,533.8 1087.7,532.7 1088.2,531.7 1088.8,530.6 1089.3,529.5 1089.8,528.5 1090.3,527.4 1090.9,526.3 1091.4,525.3 1091.9,524.2 1092.4,523.1 1092.9,522.1 1093.4,521.0 1093.9,519.9 1094.4,518.8 1094.9,517.7" fill="none" stroke="#000000" stroke-width="14.5" stroke-linejoin="round"/><path d="M707.5 672.3h7.4v7.4h-7.4zM708.7 672.3h7.4v7.4h-7.4zM709.9 672.4h7.4v7.4h-7.4zM711.2 672.4h7.4v7.4h-7.4zM712.5 672.4h7.4v7.4h-7.4zM713.7 672.4h7.4v7.4h-7.4zM715.1 672.5h7.4v7.4h-7.4zM716.4 672.5h7.4v7.4h-7.4zM717.7 672.5h7.4v7.4h-7.4zM719.1 672.5h7.4v7.4h-7.4zM720.5 672.5h7.4v7.4h-7.4zM721.7 672.6h7.4v7.4h-7.4zM722.9 672.6h7.4v7.4h-7.4zM724.2 672.6h7.4v7.4h-7.4zM725.4 672.6h7.4v7.4h-7.4zM726.7 672.6h7.4v7.4h-7.4zM728.0 672.6h7.4v7.4h-7.4zM729.3 672.6h7.4v7.4h-7.4zM730.6 672.7h7.4v7.4h-7.4zM731.9 672.7h7.4v7.4h-7.4zM733.3 672.7h7.4v7.4h-7.4zM734.7 672.7h7.4v7.4h-7.4zM736.0 672.7h7.4v7.4h-7.4zM737.5 672.7h7.4v7.4h-7.4zM738.9 672.7h7.4v7.4h-7.4zM740.1 672.7h7.4v7.4h-7.4zM741.3 672.7h7.4v7.4h-7.4zM742.5 672.7h7.4v7.4h-7.4zM743.8 672.7h7.4v7.4h-7.4zM745.0 672.7h7.4v7.4h-7.4zM746.3 672.7h7.4v7.4h-7.4zM747.6 672.7h7.4v7.4h-7.4zM748.9 672.7h7.4v7.4h-7.4zM750.2 672.7h7.4v7.4h-7.4zM751.6 672.7h7.4v7.4h-7.4zM752.9 672.7h7.4v7.4h-7.4zM754.3 672.6h7.4v7.4h-7.4zM755.7 672.6h7.4v7.4h-7.4zM757.1 672.6h7.4v7.4h-7.4zM758.5 672.6h7.4v7.4h-7.4zM760.0 672.6h7.4v7.4h-7.4zM761.4 672.6h7.4v7.4h-7.4zM762.9 672.5h7.4v7.4h-7.4zM764.4 672.5h7.4v7.4h-7.4zM765.6 672.5h7.4v7.4h-7.4zM766.8 672.4h7.4v7.4h-7.4zM768.1 672.4h7.4v7.4h-7.4zM769.3 672.4h7.4v7.4h-7.4zM770.6 672.4h7.4v7.4h-7.4zM771.8 672.3h7.4v7.4h-7.4zM773.1 672.3h7.4v7.4h-7.4zM774.4 672.3h7.4v7.4h-7.4zM775.7 672.2h7.4v7.4h-7.4zM777.1 672.2h7.4v7.4h-7.4zM778.4 672.1h7.4v7.4h-7.4zM779.8 672.1h7.4v7.4h-7.4zM781.1 672.0h7.4v7.4h-7.4zM782.5 672.0h7.4v7.4h-7.4zM783.9 671.9h7.4v7.4h-7.4zM785.4 671.9h7.4v7.4h-7.4zM786.8 671.8h7.4v7.4h-7.4zM788.2 671.7h7.4v7.4h-7.4zM789.7 671.7h7.4v7.4h-7.4zM791.2 671.6h7.4v7.4h-7.4zM792.7 671.5h7.4v7.4h-7.4zM794.2 671.5h7.4v7.4h-7.4zM795.7 671.4h7.4v7.4h-7.4zM797.3 671.3h7.4v7.4h-7.4zM798.9 671.2h7.4v7.4h-7.4zM800.4 671.1h7.4v7.4h-7.4zM801.7 671.0h7.4v7.4h-7.4zM802.9 671.0h7.4v7.4h-7.4zM804.1 670.9h7.4v7.4h-7.4zM805.3 670.8h7.4v7.4h-7.4zM806.6 670.7h7.4v7.4h-7.4zM807.8 670.6h7.4v7.4h-7.4zM809.1 670.6h7.4v7.4h-7.4zM810.4 670.5h7.4v7.4h-7.4zM811.7 670.4h7.4v7.4h-7.4zM813.0 670.3h7.4v7.4h-7.4zM814.3 670.2h7.4v7.4h-7.4zM815.6 670.1h7.4v7.4h-7.4zM817.0 670.0h7.4v7.4h-7.4zM818.3 669.9h7.4v7.4h-7.4zM819.7 669.7h7.4v7.4h-7.4zM821.1 669.6h7.4v7.4h-7.4zM822.5 669.5h7.4v7.4h-7.4zM823.9 669.4h7.4v7.4h-7.4zM825.3 669.2h7.4v7.4h-7.4zM826.7 669.1h7.4v7.4h-7.4zM828.2 669.0h7.4v7.4h-7.4zM829.6 668.8h7.4v7.4h-7.4zM831.1 668.7h7.4v7.4h-7.4zM832.6 668.5h7.4v7.4h-7.4zM834.1 668.4h7.4v7.4h-7.4zM835.6 668.2h7.4v7.4h-7.4zM837.1 668.0h7.4v7.4h-7.4zM838.7 667.9h7.4v7.4h-7.4zM840.3 667.7h7.4v7.4h-7.4zM841.8 667.5h7.4v7.4h-7.4zM843.4 667.3h7.4v7.4h-7.4zM845.1 667.1h7.4v7.4h-7.4zM846.7 666.9h7.4v7.4h-7.4zM848.3 666.7h7.4v7.4h-7.4zM850.0 666.5h7.4v7.4h-7.4zM851.7 666.3h7.4v7.4h-7.4zM853.4 666.0h7.4v7.4h-7.4zM855.1 665.8h7.4v7.4h-7.4zM856.8 665.5h7.4v7.4h-7.4zM858.6 665.3h7.4v7.4h-7.4zM860.3 665.0h7.4v7.4h-7.4zM861.5 664.8h7.4v7.4h-7.4zM862.7 664.7h7.4v7.4h-7.4zM863.9 664.5h7.4v7.4h-7.4zM865.2 664.3h7.4v7.4h-7.4zM866.4 664.1h7.4v7.4h-7.4zM867.6 663.9h7.4v7.4h-7.4zM868.9 663.7h7.4v7.4h-7.4zM870.1 663.5h7.4v7.4h-7.4zM871.4 663.3h7.4v7.4h-7.4zM872.7 663.0h7.4v7.4h-7.4zM873.9 662.8h7.4v7.4h-7.4zM875.2 662.6h7.4v7.4h-7.4zM876.5 662.4h7.4v7.4h-7.4zM877.8 662.1h7.4v7.4h-7.4zM879.2 661.9h7.4v7.4h-7.4zM880.5 661.6h7.4v7.4h-7.4zM881.8 661.4h7.4v7.4h-7.4zM883.2 661.1h7.4v7.4h-7.4zM884.6 660.9h7.4v7.4h-7.4zM885.9 660.6h7.4v7.4h-7.4zM887.3 660.3h7.4v7.4h-7.4zM888.7 660.0h7.4v7.4h-7.4zM890.1 659.7h7.4v7.4h-7.4zM891.5 659.5h7.4v7.4h-7.4zM892.9 659.2h7.4v7.4h-7.4zM894.4 658.8h7.4v7.4h-7.4zM895.8 658.5h7.4v7.4h-7.4zM897.3 658.2h7.4v7.4h-7.4zM898.8 657.9h7.4v7.4h-7.4zM900.2 657.5h7.4v7.4h-7.4zM901.7 657.2h7.4v7.4h-7.4zM903.2 656.9h7.4v7.4h-7.4zM904.8 656.5h7.4v7.4h-7.4zM906.3 656.1h7.4v7.4h-7.4zM907.8 655.8h7.4v7.4h-7.4zM909.4 655.4h7.4v7.4h-7.4zM911.0 655.0h7.4v7.4h-7.4zM912.5 654.6h7.4v7.4h-7.4zM914.1 654.2h7.4v7.4h-7.4zM915.7 653.8h7.4v7.4h-7.4zM917.4 653.3h7.4v7.4h-7.4zM919.0 652.9h7.4v7.4h-7.4zM920.7 652.4h7.4v7.4h-7.4zM922.3 652.0h7.4v7.4h-7.4zM924.0 651.5h7.4v7.4h-7.4zM925.7 651.0h7.4v7.4h-7.4zM927.4 650.5h7.4v7.4h-7.4zM929.1 650.0h7.4v7.4h-7.4zM930.9 649.5h7.4v7.4h-7.4zM932.6 649.0h7.4v7.4h-7.4zM934.4 648.5h7.4v7.4h-7.4zM936.2 647.9h7.4v7.4h-7.4zM937.9 647.3h7.4v7.4h-7.4zM939.8 646.7h7.4v7.4h-7.4zM941.6 646.2h7.4v7.4h-7.4zM943.4 645.5h7.4v7.4h-7.4zM945.3 644.9h7.4v7.4h-7.4zM947.2 644.3h7.4v7.4h-7.4zM949.1 643.6h7.4v7.4h-7.4zM951.0 642.9h7.4v7.4h-7.4zM952.9 642.2h7.4v7.4h-7.4zM954.9 641.5h7.4v7.4h-7.4zM956.8 640.8h7.4v7.4h-7.4zM958.8 640.0h7.4v7.4h-7.4zM960.8 639.3h7.4v7.4h-7.4zM962.8 638.5h7.4v7.4h-7.4zM964.9 637.6h7.4v7.4h-7.4zM966.9 636.8h7.4v7.4h-7.4zM969.0 635.9h7.4v7.4h-7.4zM971.1 635.0h7.4v7.4h-7.4zM973.2 634.1h7.4v7.4h-7.4zM975.4 633.2h7.4v7.4h-7.4zM977.5 632.2h7.4v7.4h-7.4zM979.7 631.2h7.4v7.4h-7.4zM980.8 630.6h7.4v7.4h-7.4zM981.9 630.1h7.4v7.4h-7.4zM983.0 629.6h7.4v7.4h-7.4zM984.1 629.0h7.4v7.4h-7.4zM985.3 628.5h7.4v7.4h-7.4zM986.4 627.9h7.4v7.4h-7.4zM987.5 627.4h7.4v7.4h-7.4zM988.7 626.8h7.4v7.4h-7.4zM989.8 626.2h7.4v7.4h-7.4zM990.9 625.6h7.4v7.4h-7.4zM992.1 625.0h7.4v7.4h-7.4zM993.3 624.4h7.4v7.4h-7.4zM994.4 623.7h7.4v7.4h-7.4zM995.6 623.1h7.4v7.4h-7.4zM996.8 622.4h7.4v7.4h-7.4zM998.0 621.8h7.4v7.4h-7.4zM999.1 621.1h7.4v7.4h-7.4zM1000.3 620.4h7.4v7.4h-7.4zM1001.5 619.7h7.4v7.4h-7.4zM1002.7 619.0h7.4v7.4h-7.4zM1004.0 618.3h7.4v7.4h-7.4zM1005.2 617.5h7.4v7.4h-7.4zM1006.4 616.8h7.4v7.4h-7.4zM1007.6 616.0h7.4v7.4h-7.4zM1008.9 615.2h7.4v7.4h-7.4zM1010.1 614.4h7.4v7.4h-7.4zM1011.4 613.6h7.4v7.4h-7.4zM1012.6 612.8h7.4v7.4h-7.4zM1013.9 611.9h7.4v7.4h-7.4zM1015.2 611.1h7.4v7.4h-7.4zM1016.4 610.2h7.4v7.4h-7.4zM1017.7 609.3h7.4v7.4h-7.4zM1019.0 608.4h7.4v7.4h-7.4zM1020.3 607.4h7.4v7.4h-7.4zM1021.6 606.5h7.4v7.4h-7.4zM1022.9 605.5h7.4v7.4h-7.4zM1024.2 604.5h7.4v7.4h-7.4zM1025.6 603.4h7.4v7.4h-7.4zM1026.9 602.4h7.4v7.4h-7.4zM1028.2 601.3h7.4v7.4h-7.4zM1029.6 600.2h7.4v7.4h-7.4zM1030.9 599.1h7.4v7.4h-7.4zM1032.3 597.9h7.4v7.4h-7.4zM1033.7 596.7h7.4v7.4h-7.4zM1035.0 595.5h7.4v7.4h-7.4zM1036.4 594.3h7.4v7.4h-7.4zM1037.8 593.0h7.4v7.4h-7.4zM1039.2 591.7h7.4v7.4h-7.4zM1040.6 590.3h7.4v7.4h-7.4zM1042.0 588.9h7.4v7.4h-7.4zM1043.5 587.5h7.4v7.4h-7.4zM1044.9 586.0h7.4v7.4h-7.4zM1046.3 584.5h7.4v7.4h-7.4zM1047.8 582.9h7.4v7.4h-7.4zM1049.2 581.3h7.4v7.4h-7.4zM1050.7 579.6h7.4v7.4h-7.4zM1052.2 577.9h7.4v7.4h-7.4zM1053.6 576.2h7.4v7.4h-7.4zM1055.1 574.4h7.4v7.4h-7.4zM1056.6 572.5h7.4v7.4h-7.4zM1058.1 570.6h7.4v7.4h-7.4zM1059.6 568.6h7.4v7.4h-7.4zM1061.2 566.6h7.4v7.4h-7.4zM1062.7 564.5h7.4v7.4h-7.4zM1064.2 562.3h7.4v7.4h-7.4zM1065.8 560.1h7.4v7.4h-7.4zM1067.3 557.8h7.4v7.4h-7.4zM1068.9 555.4h7.4v7.4h-7.4zM1070.5 552.9h7.4v7.4h-7.4zM1072.1 550.4h7.4v7.4h-7.4zM1073.6 547.8h7.4v7.4h-7.4zM1075.2 545.1h7.4v7.4h-7.4zM1076.9 542.3h7.4v7.4h-7.4zM1078.5 539.4h7.4v7.4h-7.4zM1080.1 536.4h7.4v7.4h-7.4zM1081.8 533.4h7.4v7.4h-7.4zM1083.4 530.2h7.4v7.4h-7.4zM1085.1 526.9h7.4v7.4h-7.4zM1086.7 523.5h7.4v7.4h-7.4zM1088.4 520.0h7.4v7.4h-7.4zM1090.1 516.4h7.4v7.4h-7.4zM1091.8 512.7h7.4v7.4h-7.4zM1093.5 508.8h7.4v7.4h-7.4zM1095.2 504.8h7.4v7.4h-7.4zM1097.0 500.7h7.4v7.4h-7.4zM1098.7 496.4h7.4v7.4h-7.4zM1100.5 492.0h7.4v7.4h-7.4zM1102.2 487.5h7.4v7.4h-7.4zM1104.0 482.8h7.4v7.4h-7.4zM1105.8 478.0h7.4v7.4h-7.4zM1107.6 473.0h7.4v7.4h-7.4zM1109.4 467.9h7.4v7.4h-7.4zM1111.2 462.7h7.4v7.4h-7.4zM1113.0 457.3h7.4v7.4h-7.4zM1114.9 451.7h7.4v7.4h-7.4zM1116.7 446.0h7.4v7.4h-7.4zM1118.6 440.1h7.4v7.4h-7.4zM1120.5 434.1h7.4v7.4h-7.4zM1122.4 427.9h7.4v7.4h-7.4zM1124.3 421.5h7.4v7.4h-7.4zM1126.2 415.0h7.4v7.4h-7.4zM1128.1 408.3h7.4v7.4h-7.4zM1130.0 401.5h7.4v7.4h-7.4zM1132.0 394.5h7.4v7.4h-7.4zM1134.0 387.4h7.4v7.4h-7.4zM1135.9 380.2h7.4v7.4h-7.4zM1137.9 372.8h7.4v7.4h-7.4zM1139.9 365.4h7.4v7.4h-7.4zM1141.9 357.9h7.4v7.4h-7.4zM1144.0 350.4h7.4v7.4h-7.4zM1146.0 342.8h7.4v7.4h-7.4zM1148.1 335.2h7.4v7.4h-7.4zM1150.1 327.6h7.4v7.4h-7.4zM1152.2 320.1h7.4v7.4h-7.4zM1154.3 312.6h7.4v7.4h-7.4zM1156.4 305.1h7.4v7.4h-7.4zM1158.6 297.7h7.4v7.4h-7.4zM1160.7 290.3h7.4v7.4h-7.4zM1162.9 283.1h7.4v7.4h-7.4zM1165.0 275.9h7.4v7.4h-7.4zM1167.2 268.8h7.4v7.4h-7.4zM1169.4 261.8h7.4v7.4h-7.4zM1171.6 254.9h7.4v7.4h-7.4zM1173.9 248.2h7.4v7.4h-7.4zM1176.1 241.5h7.4v7.4h-7.4zM1178.4 235.0h7.4v7.4h-7.4zM1180.6 228.6h7.4v7.4h-7.4zM1182.9 222.3h7.4v7.4h-7.4zM1185.2 216.1h7.4v7.4h-7.4zM1187.6 210.0h7.4v7.4h-7.4zM1189.9 204.1h7.4v7.4h-7.4zM1192.3 198.2h7.4v7.4h-7.4zM1194.6 192.5h7.4v7.4h-7.4zM1197.0 186.9h7.4v7.4h-7.4zM1199.4 181.4h7.4v7.4h-7.4zM1201.9 176.0h7.4v7.4h-7.4zM1204.3 170.7h7.4v7.4h-7.4zM1206.8 165.5h7.4v7.4h-7.4zM1209.2 160.4h7.4v7.4h-7.4zM1211.7 155.4h7.4v7.4h-7.4zM1214.3 150.5h7.4v7.4h-7.4zM1216.8 145.6h7.4v7.4h-7.4zM1219.4 140.9h7.4v7.4h-7.4zM1221.9 136.3h7.4v7.4h-7.4zM1224.5 131.7h7.4v7.4h-7.4zM1227.1 127.2h7.4v7.4h-7.4zM1229.8 122.8h7.4v7.4h-7.4zM1232.4 118.5h7.4v7.4h-7.4zM1235.1 114.3h7.4v7.4h-7.4zM1237.8 110.1h7.4v7.4h-7.4zM1240.5 106.0h7.4v7.4h-7.4z" fill="none" stroke="#000000" stroke-width="3.4" stroke-linejoin="miter"/><path d="M715.3,673.2 716.4,673.3 717.6,673.4 718.7,673.4 719.9,673.5 721.0,673.5 722.2,673.5 723.3,673.6 724.5,673.6 725.6,673.7 726.8,673.7 727.9,673.7 729.1,673.8 730.2,673.8 731.4,673.8 732.5,673.8 733.7,673.9 734.8,673.9 736.0,673.9 737.2,673.9 738.3,673.9 739.5,673.9 740.6,674.0 741.8,674.0 743.0,674.0 744.1,674.0 745.3,674.0 746.5,674.0 747.6,674.0 748.8,674.0 750.0,674.0 751.1,674.0 752.3,674.0 753.5,674.0 754.6,674.0 755.8,673.9 757.0,673.9 758.1,673.9 759.3,673.9 760.5,673.9 761.6,673.9 762.8,673.8 764.0,673.8 765.1,673.8 766.3,673.8 767.5,673.8 768.6,673.7 769.8,673.7 771.0,673.7 772.2,673.7 773.3,673.6 774.5,673.6 775.7,673.6 776.8,673.5 778.0,673.5 779.2,673.5 780.3,673.5 781.5,673.4 782.7,673.4 783.9,673.4 785.0,673.3 786.2,673.3 787.4,673.2 788.5,673.2 789.7,673.2 790.9,673.1 792.0,673.1 793.2,673.1 794.4,673.0 795.5,673.0 796.7,672.9 797.9,672.9 799.0,672.9 800.2,672.8 801.3,672.8 802.5,672.7 803.7,672.7 804.8,672.7 806.0,672.6 807.2,672.6 808.3,672.5 809.5,672.5 810.6,672.5 811.8,672.4 813.0,672.4 814.1,672.3 815.3,672.3 816.4,672.3 817.6,672.2 818.7,672.2 819.9,672.1 821.0,672.1 822.2,672.0 823.4,672.0 824.5,672.0 825.7,671.9 826.8,671.9 828.0,671.8 829.1,671.8 830.3,671.7 831.4,671.7 832.6,671.6 833.7,671.6 834.9,671.5 836.0,671.5 837.2,671.4 838.3,671.4 839.5,671.3 840.6,671.3 841.8,671.2 842.9,671.2 844.1,671.1 845.2,671.1 846.4,671.0 847.5,671.0 848.7,670.9 849.8,670.9 851.0,670.8 852.1,670.7 853.3,670.7 854.4,670.6 855.6,670.6 856.7,670.5 857.9,670.4 859.0,670.4 860.2,670.3 861.3,670.2 862.4,670.2 863.6,670.1 864.7,670.0 865.9,670.0 867.0,669.9 868.2,669.8 869.3,669.8 870.5,669.7 871.6,669.6 872.8,669.5 873.9,669.5 875.1,669.4 876.2,669.3 877.4,669.2 878.5,669.2 879.6,669.1 880.8,669.0 881.9,668.9 883.1,668.8 884.2,668.7 885.4,668.7 886.5,668.6 887.7,668.5 888.8,668.4 890.0,668.3 891.1,668.2 892.3,668.1 893.4,668.0 894.6,667.9 895.7,667.8 896.9,667.7 898.0,667.6 899.2,667.5 900.3,667.4 901.4,667.3 902.6,667.2 903.7,667.1 904.9,667.0 906.0,666.9 907.2,666.8 908.3,666.7 909.5,666.5 910.7,666.4 911.8,666.3 913.0,666.2 914.1,666.1 915.3,666.0 916.4,665.8 917.6,665.7 918.7,665.6 919.9,665.4 921.0,665.3 922.2,665.2 923.3,665.0 924.5,664.9 925.6,664.8 926.8,664.6 928.0,664.5 929.1,664.4 930.3,664.2 931.4,664.1 932.6,663.9 933.7,663.8 934.9,663.6 936.1,663.5 937.2,663.3 938.4,663.2 939.5,663.0 940.7,662.8 941.9,662.7 943.0,662.5 944.2,662.3 945.4,662.2 946.5,662.0 947.7,661.8 948.8,661.7 950.0,661.5 951.2,661.3 952.3,661.1 953.5,660.9 954.7,660.7 955.8,660.6 957.0,660.4 958.2,660.2 959.3,660.0 960.5,659.8 961.6,659.6 962.8,659.4 964.0,659.1 965.1,658.9 966.3,658.7 967.4,658.5 968.6,658.3 969.8,658.0 970.9,657.8 972.1,657.6 973.2,657.4 974.4,657.1 975.5,656.9 976.7,656.6 977.8,656.4 979.0,656.1 980.1,655.9 981.3,655.6 982.4,655.3 983.6,655.1 984.7,654.8 985.8,654.5 987.0,654.2 988.1,654.0 989.3,653.7 990.4,653.4 991.5,653.1 992.7,652.8 993.8,652.5 994.9,652.2 996.0,651.8 997.2,651.5 998.3,651.2 999.4,650.9 1000.5,650.5 1001.6,650.2 1002.7,649.8 1003.9,649.5 1005.0,649.1 1006.1,648.8 1007.2,648.4 1008.3,648.1 1009.4,647.7 1010.5,647.3 1011.6,646.9 1012.7,646.5 1013.7,646.1 1014.8,645.7 1015.9,645.3 1017.0,644.9 1018.1,644.5 1019.1,644.1 1020.2,643.6 1021.3,643.2 1022.3,642.8 1023.4,642.3 1024.4,641.9 1025.5,641.4 1026.6,641.0 1027.6,640.5 1028.6,640.0 1029.7,639.5 1030.7,639.0 1031.7,638.5 1032.8,638.0 1033.8,637.5 1034.8,637.0 1035.8,636.5 1036.9,636.0 1037.9,635.4 1038.9,634.9 1039.9,634.4 1040.9,633.8 1041.9,633.2 1042.9,632.7 1043.8,632.1 1044.8,631.5 1045.8,630.9 1046.8,630.3 1047.7,629.7 1048.7,629.1 1049.7,628.5 1050.6,627.9 1051.6,627.2 1052.5,626.6 1053.4,626.0 1054.4,625.3 1055.3,624.6 1056.2,624.0 1057.2,623.3 1058.1,622.6 1059.0,621.9 1059.9,621.2 1060.8,620.5 1061.7,619.8 1062.6,619.1 1063.4,618.3 1064.3,617.6 1065.2,616.8 1066.1,616.1 1066.9,615.3 1067.8,614.5 1068.6,613.8 1069.5,613.0 1070.3,612.2 1071.2,611.4 1072.0,610.6 1072.8,609.8 1073.6,608.9 1074.5,608.1 1075.3,607.3 1076.1,606.4 1076.9,605.6 1077.7,604.7 1078.4,603.9 1079.2,603.0 1080.0,602.1 1080.8,601.3 1081.5,600.4 1082.3,599.5 1083.0,598.6 1083.8,597.7 1084.5,596.8 1085.3,595.9 1086.0,595.0 1086.7,594.0 1087.4,593.1 1088.1,592.2 1088.9,591.3 1089.6,590.3 1090.2,589.4 1090.9,588.4 1091.6,587.5 1092.3,586.5 1093.0,585.6 1093.6,584.6 1094.3,583.6 1095.0,582.7 1095.6,581.7 1096.2,580.7 1096.9,579.7 1097.5,578.8 1098.1,577.8 1098.8,576.8 1099.4,575.8 1100.0,574.8" fill="none" stroke="#ff0000" stroke-width="13.0" stroke-linejoin="round"/><path d="M707.0 673.0a4.2 4.2 0 1 0 8.4 0a4.2 4.2 0 1 0 -8.4 0M708.2 673.1a4.2 4.2 0 1 0 8.4 0a4.2 4.2 0 1 0 -8.4 0M709.4 673.2a4.2 4.2 0 1 0 8.4 0a4.2 4.2 0 1 0 -8.4 0M710.7 673.2a4.2 4.2 0 1 0 8.4 0a4.2 4.2 0 1 0 -8.4 0M712.0 673.3a4.2 4.2 0 1 0 8.4 0a4.2 4.2 0 1 0 -8.4 0M713.2 673.3a4.2 4.2 0 1 0 8.4 0a4.2 4.2 0 1 0 -8.4 0M714.6 673.4a4.2 4.2 0 1 0 8.4 0a4.2 4.2 0 1 0 -8.4 0M715.9 673.5a4.2 4.2 0 1 0 8.4 0a4.2 4.2 0 1 0 -8.4 0M717.2 673.5a4.2 4.2 0 1 0 8.4 0a4.2 4.2 0 1 0 -8.4 0M718.6 673.6a4.2 4.2 0 1 0 8.4 0a4.2 4.2 0 1 0 -8.4 0M720.0 673.6a4.2 4.2 0 1 0 8.4 0a4.2 4.2 0 1 0 -8.4 0M721.2 673.7a4.2 4.2 0 1 0 8.4 0a4.2 4.2 0 1 0 -8.4 0M722.4 673.7a4.2 4.2 0 1 0 8.4 0a4.2 4.2 0 1 0 -8.4 0M723.7 673.7a4.2 4.2 0 1 0 8.4 0a4.2 4.2 0 1 0 -8.4 0M724.9 673.8a4.2 4.2 0 1 0 8.4 0a4.2 4.2 0 1 0 -8.4 0M726.2 673.8a4.2 4.2 0 1 0 8.4 0a4.2 4.2 0 1 0 -8.4 0M727.5 673.8a4.2 4.2 0 1 0 8.4 0a4.2 4.2 0 1 0 -8.4 0M728.8 673.8a4.2 4.2 0 1 0 8.4 0a4.2 4.2 0 1 0 -8.4 0M730.1 673.9a4.2 4.2 0 1 0 8.4 0a4.2 4.2 0 1 0 -8.4 0M731.4 673.9a4.2 4.2 0 1 0 8.4 0a4.2 4.2 0 1 0 -8.4 0M732.8 673.9a4.2 4.2 0 1 0 8.4 0a4.2 4.2 0 1 0 -8.4 0M734.2 673.9a4.2 4.2 0 1 0 8.4 0a4.2 4.2 0 1 0 -8.4 0M735.5 673.9a4.2 4.2 0 1 0 8.4 0a4.2 4.2 0 1 0 -8.4 0M737.0 674.0a4.2 4.2 0 1 0 8.4 0a4.2 4.2 0 1 0 -8.4 0M738.4 674.0a4.2 4.2 0 1 0 8.4 0a4.2 4.2 0 1 0 -8.4 0M739.6 674.0a4.2 4.2 0 1 0 8.4 0a4.2 4.2 0 1 0 -8.4 0M740.8 674.0a4.2 4.2 0 1 0 8.4 0a4.2 4.2 0 1 0 -8.4 0M742.0 674.0a4.2 4.2 0 1 0 8.4 0a4.2 4.2 0 1 0 -8.4 0M743.3 674.0a4.2 4.2 0 1 0 8.4 0a4.2 4.2 0 1 0 -8.4 0M744.5 674.0a4.2 4.2 0 1 0 8.4 0a4.2 4.2 0 1 0 -8.4 0M745.8 674.0a4.2 4.2 0 1 0 8.4 0a4.2 4.2 0 1 0 -8.4 0M747.1 674.0a4.2 4.2 0 1 0 8.4 0a4.2 4.2 0 1 0 -8.4 0M748.4 674.0a4.2 4.2 0 1 0 8.4 0a4.2 4.2 0 1 0 -8.4 0M749.7 674.0a4.2 4.2 0 1 0 8.4 0a4.2 4.2 0 1 0 -8.4 0M751.1 673.9a4.2 4.2 0 1 0 8.4 0a4.2 4.2 0 1 0 -8.4 0M752.4 673.9a4.2 4.2 0 1 0 8.4 0a4.2 4.2 0 1 0 -8.4 0M753.8 673.9a4.2 4.2 0 1 0 8.4 0a4.2 4.2 0 1 0 -8.4 0M755.2 673.9a4.2 4.2 0 1 0 8.4 0a4.2 4.2 0 1 0 -8.4 0M756.6 673.9a4.2 4.2 0 1 0 8.4 0a4.2 4.2 0 1 0 -8.4 0M758.0 673.9a4.2 4.2 0 1 0 8.4 0a4.2 4.2 0 1 0 -8.4 0M759.5 673.8a4.2 4.2 0 1 0 8.4 0a4.2 4.2 0 1 0 -8.4 0M760.9 673.8a4.2 4.2 0 1 0 8.4 0a4.2 4.2 0 1 0 -8.4 0M762.4 673.8a4.2 4.2 0 1 0 8.4 0a4.2 4.2 0 1 0 -8.4 0M763.9 673.8a4.2 4.2 0 1 0 8.4 0a4.2 4.2 0 1 0 -8.4 0M765.1 673.7a4.2 4.2 0 1 0 8.4 0a4.2 4.2 0 1 0 -8.4 0M766.3 673.7a4.2 4.2 0 1 0 8.4 0a4.2 4.2 0 1 0 -8.4 0M767.6 673.7a4.2 4.2 0 1 0 8.4 0a4.2 4.2 0 1 0 -8.4 0M768.8 673.6a4.2 4.2 0 1 0 8.4 0a4.2 4.2 0 1 0 -8.4 0M770.1 673.6a4.2 4.2 0 1 0 8.4 0a4.2 4.2 0 1 0 -8.4 0M771.3 673.6a4.2 4.2 0 1 0 8.4 0a4.2 4.2 0 1 0 -8.4 0M772.6 673.5a4.2 4.2 0 1 0 8.4 0a4.2 4.2 0 1 0 -8.4 0M773.9 673.5a4.2 4.2 0 1 0 8.4 0a4.2 4.2 0 1 0 -8.4 0M775.2 673.5a4.2 4.2 0 1 0 8.4 0a4.2 4.2 0 1 0 -8.4 0M776.6 673.4a4.2 4.2 0 1 0 8.4 0a4.2 4.2 0 1 0 -8.4 0M777.9 673.4a4.2 4.2 0 1 0 8.4 0a4.2 4.2 0 1 0 -8.4 0M779.3 673.4a4.2 4.2 0 1 0 8.4 0a4.2 4.2 0 1 0 -8.4 0M780.6 673.3a4.2 4.2 0 1 0 8.4 0a4.2 4.2 0 1 0 -8.4 0M782.0 673.3a4.2 4.2 0 1 0 8.4 0a4.2 4.2 0 1 0 -8.4 0M783.4 673.2a4.2 4.2 0 1 0 8.4 0a4.2 4.2 0 1 0 -8.4 0M784.9 673.2a4.2 4.2 0 1 0 8.4 0a4.2 4.2 0 1 0 -8.4 0M786.3 673.1a4.2 4.2 0 1 0 8.4 0a4.2 4.2 0 1 0 -8.4 0M787.7 673.1a4.2 4.2 0 1 0 8.4 0a4.2 4.2 0 1 0 -8.4 0M789.2 673.1a4.2 4.2 0 1 0 8.4 0a4.2 4.2 0 1 0 -8.4 0M790.7 673.0a4.2 4.2 0 1 0 8.4 0a4.2 4.2 0 1 0 -8.4 0M792.2 673.0a4.2 4.2 0 1 0 8.4 0a4.2 4.2 0 1 0 -8.4 0M793.7 672.9a4.2 4.2 0 1 0 8.4 0a4.2 4.2 0 1 0 -8.4 0M795.2 672.9a4.2 4.2 0 1 0 8.4 0a4.2 4.2 0 1 0 -8.4 0M796.8 672.8a4.2 4.2 0 1 0 8.4 0a4.2 4.2 0 1 0 -8.4 0M798.4 672.7a4.2 4.2 0 1 0 8.4 0a4.2 4.2 0 1 0 -8.4 0M799.9 672.7a4.2 4.2 0 1 0 8.4 0a4.2 4.2 0 1 0 -8.4 0M801.2 672.7a4.2 4.2 0 1 0 8.4 0a4.2 4.2 0 1 0 -8.4 0M802.4 672.6a4.2 4.2 0 1 0 8.4 0a4.2 4.2 0 1 0 -8.4 0M803.6 672.6a4.2 4.2 0 1 0 8.4 0a4.2 4.2 0 1 0 -8.4 0M804.8 672.5a4.2 4.2 0 1 0 8.4 0a4.2 4.2 0 1 0 -8.4 0M806.1 672.5a4.2 4.2 0 1 0 8.4 0a4.2 4.2 0 1 0 -8.4 0M807.3 672.4a4.2 4.2 0 1 0 8.4 0a4.2 4.2 0 1 0 -8.4 0M808.6 672.4a4.2 4.2 0 1 0 8.4 0a4.2 4.2 0 1 0 -8.4 0M809.9 672.3a4.2 4.2 0 1 0 8.4 0a4.2 4.2 0 1 0 -8.4 0M811.2 672.3a4.2 4.2 0 1 0 8.4 0a4.2 4.2 0 1 0 -8.4 0M812.5 672.3a4.2 4.2 0 1 0 8.4 0a4.2 4.2 0 1 0 -8.4 0M813.8 672.2a4.2 4.2 0 1 0 8.4 0a4.2 4.2 0 1 0 -8.4 0M815.1 672.2a4.2 4.2 0 1 0 8.4 0a4.2 4.2 0 1 0 -8.4 0M816.5 672.1a4.2 4.2 0 1 0 8.4 0a4.2 4.2 0 1 0 -8.4 0M817.8 672.1a4.2 4.2 0 1 0 8.4 0a4.2 4.2 0 1 0 -8.4 0M819.2 672.0a4.2 4.2 0 1 0 8.4 0a4.2 4.2 0 1 0 -8.4 0M820.6 671.9a4.2 4.2 0 1 0 8.4 0a4.2 4.2 0 1 0 -8.4 0M822.0 671.9a4.2 4.2 0 1 0 8.4 0a4.2 4.2 0 1 0 -8.4 0M823.4 671.8a4.2 4.2 0 1 0 8.4 0a4.2 4.2 0 1 0 -8.4 0M824.8 671.8a4.2 4.2 0 1 0 8.4 0a4.2 4.2 0 1 0 -8.4 0M826.2 671.7a4.2 4.2 0 1 0 8.4 0a4.2 4.2 0 1 0 -8.4 0M827.7 671.7a4.2 4.2 0 1 0 8.4 0a4.2 4.2 0 1 0 -8.4 0M829.1 671.6a4.2 4.2 0 1 0 8.4 0a4.2 4.2 0 1 0 -8.4 0M830.6 671.5a4.2 4.2 0 1 0 8.4 0a4.2 4.2 0 1 0 -8.4 0M832.1 671.5a4.2 4.2 0 1 0 8.4 0a4.2 4.2 0 1 0 -8.4 0M833.6 671.4a4.2 4.2 0 1 0 8.4 0a4.2 4.2 0 1 0 -8.4 0M835.1 671.3a4.2 4.2 0 1 0 8.4 0a4.2 4.2 0 1 0 -8.4 0M836.6 671.3a4.2 4.2 0 1 0 8.4 0a4.2 4.2 0 1 0 -8.4 0M838.2 671.2a4.2 4.2 0 1 0 8.4 0a4.2 4.2 0 1 0 -8.4 0M839.8 671.1a4.2 4.2 0 1 0 8.4 0a4.2 4.2 0 1 0 -8.4 0M841.3 671.1a4.2 4.2 0 1 0 8.4 0a4.2 4.2 0 1 0 -8.4 0M842.9 671.0a4.2 4.2 0 1 0 8.4 0a4.2 4.2 0 1 0 -8.4 0M844.6 670.9a4.2 4.2 0 1 0 8.4 0a4.2 4.2 0 1 0 -8.4 0M846.2 670.8a4.2 4.2 0 1 0 8.4 0a4.2 4.2 0 1 0 -8.4 0M847.8 670.7a4.2 4.2 0 1 0 8.4 0a4.2 4.2 0 1 0 -8.4 0M849.5 670.7a4.2 4.2 0 1 0 8.4 0a4.2 4.2 0 1 0 -8.4 0M851.2 670.6a4.2 4.2 0 1 0 8.4 0a4.2 4.2 0 1 0 -8.4 0M852.9 670.5a4.2 4.2 0 1 0 8.4 0a4.2 4.2 0 1 0 -8.4 0M854.6 670.4a4.2 4.2 0 1 0 8.4 0a4.2 4.2 0 1 0 -8.4 0M856.3 670.3a4.2 4.2 0 1 0 8.4 0a4.2 4.2 0 1 0 -8.4 0M858.1 670.2a4.2 4.2 0 1 0 8.4 0a4.2 4.2 0 1 0 -8.4 0M859.8 670.1a4.2 4.2 0 1 0 8.4 0a4.2 4.2 0 1 0 -8.4 0M861.6 670.0a4.2 4.2 0 1 0 8.4 0a4.2 4.2 0 1 0 -8.4 0M862.8 669.9a4.2 4.2 0 1 0 8.4 0a4.2 4.2 0 1 0 -8.4 0M864.1 669.8a4.2 4.2 0 1 0 8.4 0a4.2 4.2 0 1 0 -8.4 0M865.3 669.8a4.2 4.2 0 1 0 8.4 0a4.2 4.2 0 1 0 -8.4 0M866.5 669.7a4.2 4.2 0 1 0 8.4 0a4.2 4.2 0 1 0 -8.4 0M867.8 669.6a4.2 4.2 0 1 0 8.4 0a4.2 4.2 0 1 0 -8.4 0M869.0 669.5a4.2 4.2 0 1 0 8.4 0a4.2 4.2 0 1 0 -8.4 0M870.3 669.4a4.2 4.2 0 1 0 8.4 0a4.2 4.2 0 1 0 -8.4 0M871.5 669.3a4.2 4.2 0 1 0 8.4 0a4.2 4.2 0 1 0 -8.4 0M872.8 669.3a4.2 4.2 0 1 0 8.4 0a4.2 4.2 0 1 0 -8.4 0M874.1 669.2a4.2 4.2 0 1 0 8.4 0a4.2 4.2 0 1 0 -8.4 0M875.4 669.1a4.2 4.2 0 1 0 8.4 0a4.2 4.2 0 1 0 -8.4 0M876.7 669.0a4.2 4.2 0 1 0 8.4 0a4.2 4.2 0 1 0 -8.4 0M878.0 668.9a4.2 4.2 0 1 0 8.4 0a4.2 4.2 0 1 0 -8.4 0M879.3 668.8a4.2 4.2 0 1 0 8.4 0a4.2 4.2 0 1 0 -8.4 0M880.7 668.7a4.2 4.2 0 1 0 8.4 0a4.2 4.2 0 1 0 -8.4 0M882.0 668.6a4.2 4.2 0 1 0 8.4 0a4.2 4.2 0 1 0 -8.4 0M883.4 668.5a4.2 4.2 0 1 0 8.4 0a4.2 4.2 0 1 0 -8.4 0M884.7 668.4a4.2 4.2 0 1 0 8.4 0a4.2 4.2 0 1 0 -8.4 0M886.1 668.3a4.2 4.2 0 1 0 8.4 0a4.2 4.2 0 1 0 -8.4 0M887.5 668.2a4.2 4.2 0 1 0 8.4 0a4.2 4.2 0 1 0 -8.4 0M888.9 668.0a4.2 4.2 0 1 0 8.4 0a4.2 4.2 0 1 0 -8.4 0M890.3 667.9a4.2 4.2 0 1 0 8.4 0a4.2 4.2 0 1 0 -8.4 0M891.7 667.8a4.2 4.2 0 1 0 8.4 0a4.2 4.2 0 1 0 -8.4 0M893.2 667.7a4.2 4.2 0 1 0 8.4 0a4.2 4.2 0 1 0 -8.4 0M894.6 667.6a4.2 4.2 0 1 0 8.4 0a4.2 4.2 0 1 0 -8.4 0M896.1 667.4a4.2 4.2 0 1 0 8.4 0a4.2 4.2 0 1 0 -8.4 0M897.5 667.3a4.2 4.2 0 1 0 8.4 0a4.2 4.2 0 1 0 -8.4 0M899.0 667.2a4.2 4.2 0 1 0 8.4 0a4.2 4.2 0 1 0 -8.4 0M900.5 667.0a4.2 4.2 0 1 0 8.4 0a4.2 4.2 0 1 0 -8.4 0M902.0 666.9a4.2 4.2 0 1 0 8.4 0a4.2 4.2 0 1 0 -8.4 0M903.5 666.7a4.2 4.2 0 1 0 8.4 0a4.2 4.2 0 1 0 -8.4 0M905.0 666.6a4.2 4.2 0 1 0 8.4 0a4.2 4.2 0 1 0 -8.4 0M906.6 666.4a4.2 4.2 0 1 0 8.4 0a4.2 4.2 0 1 0 -8.4 0M908.1 666.3a4.2 4.2 0 1 0 8.4 0a4.2 4.2 0 1 0 -8.4 0M909.7 666.1a4.2 4.2 0 1 0 8.4 0a4.2 4.2 0 1 0 -8.4 0M911.3 665.9a4.2 4.2 0 1 0 8.4 0a4.2 4.2 0 1 0 -8.4 0M912.8 665.8a4.2 4.2 0 1 0 8.4 0a4.2 4.2 0 1 0 -8.4 0M914.4 665.6a4.2 4.2 0 1 0 8.4 0a4.2 4.2 0 1 0 -8.4 0M916.1 665.4a4.2 4.2 0 1 0 8.4 0a4.2 4.2 0 1 0 -8.4 0M917.7 665.2a4.2 4.2 0 1 0 8.4 0a4.2 4.2 0 1 0 -8.4 0M919.3 665.0a4.2 4.2 0 1 0 8.4 0a4.2 4.2 0 1 0 -8.4 0M921.0 664.8a4.2 4.2 0 1 0 8.4 0a4.2 4.2 0 1 0 -8.4 0M922.7 664.6a4.2 4.2 0 1 0 8.4 0a4.2 4.2 0 1 0 -8.4 0M924.3 664.4a4.2 4.2 0 1 0 8.4 0a4.2 4.2 0 1 0 -8.4 0M926.0 664.2a4.2 4.2 0 1 0 8.4 0a4.2 4.2 0 1 0 -8.4 0M927.8 664.0a4.2 4.2 0 1 0 8.4 0a4.2 4.2 0 1 0 -8.4 0M929.5 663.8a4.2 4.2 0 1 0 8.4 0a4.2 4.2 0 1 0 -8.4 0M931.2 663.5a4.2 4.2 0 1 0 8.4 0a4.2 4.2 0 1 0 -8.4 0M933.0 663.3a4.2 4.2 0 1 0 8.4 0a4.2 4.2 0 1 0 -8.4 0M934.8 663.1a4.2 4.2 0 1 0 8.4 0a4.2 4.2 0 1 0 -8.4 0M936.5 662.8a4.2 4.2 0 1 0 8.4 0a4.2 4.2 0 1 0 -8.4 0M938.4 662.6a4.2 4.2 0 1 0 8.4 0a4.2 4.2 0 1 0 -8.4 0M940.2 662.3a4.2 4.2 0 1 0 8.4 0a4.2 4.2 0 1 0 -8.4 0M942.0 662.0a4.2 4.2 0 1 0 8.4 0a4.2 4.2 0 1 0 -8.4 0M943.9 661.8a4.2 4.2 0 1 0 8.4 0a4.2 4.2 0 1 0 -8.4 0M945.7 661.5a4.2 4.2 0 1 0 8.4 0a4.2 4.2 0 1 0 -8.4 0M947.6 661.2a4.2 4.2 0 1 0 8.4 0a4.2 4.2 0 1 0 -8.4 0M949.5 660.9a4.2 4.2 0 1 0 8.4 0a4.2 4.2 0 1 0 -8.4 0M951.4 660.6a4.2 4.2 0 1 0 8.4 0a4.2 4.2 0 1 0 -8.4 0M953.4 660.3a4.2 4.2 0 1 0 8.4 0a4.2 4.2 0 1 0 -8.4 0M955.3 659.9a4.2 4.2 0 1 0 8.4 0a4.2 4.2 0 1 0 -8.4 0M957.3 659.6a4.2 4.2 0 1 0 8.4 0a4.2 4.2 0 1 0 -8.4 0M959.3 659.2a4.2 4.2 0 1 0 8.4 0a4.2 4.2 0 1 0 -8.4 0M961.3 658.9a4.2 4.2 0 1 0 8.4 0a4.2 4.2 0 1 0 -8.4 0M963.4 658.5a4.2 4.2 0 1 0 8.4 0a4.2 4.2 0 1 0 -8.4 0M965.4 658.1a4.2 4.2 0 1 0 8.4 0a4.2 4.2 0 1 0 -8.4 0M967.5 657.7a4.2 4.2 0 1 0 8.4 0a4.2 4.2 0 1 0 -8.4 0M969.6 657.2a4.2 4.2 0 1 0 8.4 0a4.2 4.2 0 1 0 -8.4 0M971.7 656.8a4.2 4.2 0 1 0 8.4 0a4.2 4.2 0 1 0 -8.4 0M973.8 656.3a4.2 4.2 0 1 0 8.4 0a4.2 4.2 0 1 0 -8.4 0M976.0 655.9a4.2 4.2 0 1 0 8.4 0a4.2 4.2 0 1 0 -8.4 0M978.1 655.4a4.2 4.2 0 1 0 8.4 0a4.2 4.2 0 1 0 -8.4 0M980.3 654.8a4.2 4.2 0 1 0 8.4 0a4.2 4.2 0 1 0 -8.4 0M982.5 654.3a4.2 4.2 0 1 0 8.4 0a4.2 4.2 0 1 0 -8.4 0M984.8 653.7a4.2 4.2 0 1 0 8.4 0a4.2 4.2 0 1 0 -8.4 0M987.0 653.2a4.2 4.2 0 1 0 8.4 0a4.2 4.2 0 1 0 -8.4 0M989.3 652.5a4.2 4.2 0 1 0 8.4 0a4.2 4.2 0 1 0 -8.4 0M991.6 651.9a4.2 4.2 0 1 0 8.4 0a4.2 4.2 0 1 0 -8.4 0M992.8 651.6a4.2 4.2 0 1 0 8.4 0a4.2 4.2 0 1 0 -8.4 0M993.9 651.2a4.2 4.2 0 1 0 8.4 0a4.2 4.2 0 1 0 -8.4 0M995.1 650.9a4.2 4.2 0 1 0 8.4 0a4.2 4.2 0 1 0 -8.4 0M996.3 650.5a4.2 4.2 0 1 0 8.4 0a4.2 4.2 0 1 0 -8.4 0M997.5 650.2a4.2 4.2 0 1 0 8.4 0a4.2 4.2 0 1 0 -8.4 0M998.6 649.8a4.2 4.2 0 1 0 8.4 0a4.2 4.2 0 1 0 -8.4 0M999.8 649.4a4.2 4.2 0 1 0 8.4 0a4.2 4.2 0 1 0 -8.4 0M1001.0 649.1a4.2 4.2 0 1 0 8.4 0a4.2 4.2 0 1 0 -8.4 0M1002.2 648.7a4.2 4.2 0 1 0 8.4 0a4.2 4.2 0 1 0 -8.4 0M1003.5 648.3a4.2 4.2 0 1 0 8.4 0a4.2 4.2 0 1 0 -8.4 0M1004.7 647.8a4.2 4.2 0 1 0 8.4 0a4.2 4.2 0 1 0 -8.4 0M1005.9 647.4a4.2 4.2 0 1 0 8.4 0a4.2 4.2 0 1 0 -8.4 0M1007.1 647.0a4.2 4.2 0 1 0 8.4 0a4.2 4.2 0 1 0 -8.4 0M1008.4 646.6a4.2 4.2 0 1 0 8.4 0a4.2 4.2 0 1 0 -8.4 0M1009.6 646.1a4.2 4.2 0 1 0 8.4 0a4.2 4.2 0 1 0 -8.4 0M1010.9 645.6a4.2 4.2 0 1 0 8.4 0a4.2 4.2 0 1 0 -8.4 0M1012.1 645.2a4.2 4.2 0 1 0 8.4 0a4.2 4.2 0 1 0 -8.4 0M1013.4 644.7a4.2 4.2 0 1 0 8.4 0a4.2 4.2 0 1 0 -8.4 0M1014.7 644.2a4.2 4.2 0 1 0 8.4 0a4.2 4.2 0 1 0 -8.4 0M1015.9 643.7a4.2 4.2 0 1 0 8.4 0a4.2 4.2 0 1 0 -8.4 0M1017.2 643.1a4.2 4.2 0 1 0 8.4 0a4.2 4.2 0 1 0 -8.4 0M1018.5 642.6a4.2 4.2 0 1 0 8.4 0a4.2 4.2 0 1 0 -8.4 0M1019.8 642.1a4.2 4.2 0 1 0 8.4 0a4.2 4.2 0 1 0 -8.4 0M1021.1 641.5a4.2 4.2 0 1 0 8.4 0a4.2 4.2 0 1 0 -8.4 0M1022.4 640.9a4.2 4.2 0 1 0 8.4 0a4.2 4.2 0 1 0 -8.4 0M1023.7 640.3a4.2 4.2 0 1 0 8.4 0a4.2 4.2 0 1 0 -8.4 0M1025.1 639.7a4.2 4.2 0 1 0 8.4 0a4.2 4.2 0 1 0 -8.4 0M1026.4 639.1a4.2 4.2 0 1 0 8.4 0a4.2 4.2 0 1 0 -8.4 0M1027.7 638.5a4.2 4.2 0 1 0 8.4 0a4.2 4.2 0 1 0 -8.4 0M1029.1 637.8a4.2 4.2 0 1 0 8.4 0a4.2 4.2 0 1 0 -8.4 0M1030.4 637.1a4.2 4.2 0 1 0 8.4 0a4.2 4.2 0 1 0 -8.4 0M1031.8 636.4a4.2 4.2 0 1 0 8.4 0a4.2 4.2 0 1 0 -8.4 0M1033.2 635.7a4.2 4.2 0 1 0 8.4 0a4.2 4.2 0 1 0 -8.4 0M1034.5 635.0a4.2 4.2 0 1 0 8.4 0a4.2 4.2 0 1 0 -8.4 0M1035.9 634.2a4.2 4.2 0 1 0 8.4 0a4.2 4.2 0 1 0 -8.4 0M1037.3 633.4a4.2 4.2 0 1 0 8.4 0a4.2 4.2 0 1 0 -8.4 0M1038.7 632.6a4.2 4.2 0 1 0 8.4 0a4.2 4.2 0 1 0 -8.4 0M1040.1 631.8a4.2 4.2 0 1 0 8.4 0a4.2 4.2 0 1 0 -8.4 0M1041.5 631.0a4.2 4.2 0 1 0 8.4 0a4.2 4.2 0 1 0 -8.4 0M1043.0 630.1a4.2 4.2 0 1 0 8.4 0a4.2 4.2 0 1 0 -8.4 0M1044.4 629.2a4.2 4.2 0 1 0 8.4 0a4.2 4.2 0 1 0 -8.4 0M1045.8 628.3a4.2 4.2 0 1 0 8.4 0a4.2 4.2 0 1 0 -8.4 0M1047.3 627.3a4.2 4.2 0 1 0 8.4 0a4.2 4.2 0 1 0 -8.4 0M1048.7 626.3a4.2 4.2 0 1 0 8.4 0a4.2 4.2 0 1 0 -8.4 0M1050.2 625.3a4.2 4.2 0 1 0 8.4 0a4.2 4.2 0 1 0 -8.4 0M1051.7 624.2a4.2 4.2 0 1 0 8.4 0a4.2 4.2 0 1 0 -8.4 0M1053.1 623.1a4.2 4.2 0 1 0 8.4 0a4.2 4.2 0 1 0 -8.4 0M1054.6 622.0a4.2 4.2 0 1 0 8.4 0a4.2 4.2 0 1 0 -8.4 0M1056.1 620.9a4.2 4.2 0 1 0 8.4 0a4.2 4.2 0 1 0 -8.4 0M1057.6 619.7a4.2 4.2 0 1 0 8.4 0a4.2 4.2 0 1 0 -8.4 0M1059.1 618.4a4.2 4.2 0 1 0 8.4 0a4.2 4.2 0 1 0 -8.4 0M1060.7 617.1a4.2 4.2 0 1 0 8.4 0a4.2 4.2 0 1 0 -8.4 0M1062.2 615.8a4.2 4.2 0 1 0 8.4 0a4.2 4.2 0 1 0 -8.4 0M1063.7 614.4a4.2 4.2 0 1 0 8.4 0a4.2 4.2 0 1 0 -8.4 0M1065.3 613.0a4.2 4.2 0 1 0 8.4 0a4.2 4.2 0 1 0 -8.4 0M1066.8 611.5a4.2 4.2 0 1 0 8.4 0a4.2 4.2 0 1 0 -8.4 0M1068.4 610.0a4.2 4.2 0 1 0 8.4 0a4.2 4.2 0 1 0 -8.4 0M1070.0 608.4a4.2 4.2 0 1 0 8.4 0a4.2 4.2 0 1 0 -8.4 0M1071.6 606.8a4.2 4.2 0 1 0 8.4 0a4.2 4.2 0 1 0 -8.4 0M1073.1 605.1a4.2 4.2 0 1 0 8.4 0a4.2 4.2 0 1 0 -8.4 0M1074.7 603.3a4.2 4.2 0 1 0 8.4 0a4.2 4.2 0 1 0 -8.4 0M1076.4 601.5a4.2 4.2 0 1 0 8.4 0a4.2 4.2 0 1 0 -8.4 0M1078.0 599.6a4.2 4.2 0 1 0 8.4 0a4.2 4.2 0 1 0 -8.4 0M1079.6 597.7a4.2 4.2 0 1 0 8.4 0a4.2 4.2 0 1 0 -8.4 0M1081.3 595.6a4.2 4.2 0 1 0 8.4 0a4.2 4.2 0 1 0 -8.4 0M1082.9 593.5a4.2 4.2 0 1 0 8.4 0a4.2 4.2 0 1 0 -8.4 0M1084.6 591.4a4.2 4.2 0 1 0 8.4 0a4.2 4.2 0 1 0 -8.4 0M1086.2 589.1a4.2 4.2 0 1 0 8.4 0a4.2 4.2 0 1 0 -8.4 0M1087.9 586.8a4.2 4.2 0 1 0 8.4 0a4.2 4.2 0 1 0 -8.4 0M1089.6 584.4a4.2 4.2 0 1 0 8.4 0a4.2 4.2 0 1 0 -8.4 0M1091.3 581.8a4.2 4.2 0 1 0 8.4 0a4.2 4.2 0 1 0 -8.4 0M1093.0 579.2a4.2 4.2 0 1 0 8.4 0a4.2 4.2 0 1 0 -8.4 0M1094.7 576.5a4.2 4.2 0 1 0 8.4 0a4.2 4.2 0 1 0 -8.4 0M1096.5 573.6a4.2 4.2 0 1 0 8.4 0a4.2 4.2 0 1 0 -8.4 0M1098.2 570.7a4.2 4.2 0 1 0 8.4 0a4.2 4.2 0 1 0 -8.4 0M1100.0 567.6a4.2 4.2 0 1 0 8.4 0a4.2 4.2 0 1 0 -8.4 0M1101.7 564.4a4.2 4.2 0 1 0 8.4 0a4.2 4.2 0 1 0 -8.4 0M1103.5 561.0a4.2 4.2 0 1 0 8.4 0a4.2 4.2 0 1 0 -8.4 0M1105.3 557.5a4.2 4.2 0 1 0 8.4 0a4.2 4.2 0 1 0 -8.4 0M1107.1 553.8a4.2 4.2 0 1 0 8.4 0a4.2 4.2 0 1 0 -8.4 0M1108.9 549.9a4.2 4.2 0 1 0 8.4 0a4.2 4.2 0 1 0 -8.4 0M1110.7 545.9a4.2 4.2 0 1 0 8.4 0a4.2 4.2 0 1 0 -8.4 0M1112.5 541.7a4.2 4.2 0 1 0 8.4 0a4.2 4.2 0 1 0 -8.4 0M1114.4 537.3a4.2 4.2 0 1 0 8.4 0a4.2 4.2 0 1 0 -8.4 0M1116.2 532.8a4.2 4.2 0 1 0 8.4 0a4.2 4.2 0 1 0 -8.4 0M1118.1 528.1a4.2 4.2 0 1 0 8.4 0a4.2 4.2 0 1 0 -8.4 0M1120.0 523.3a4.2 4.2 0 1 0 8.4 0a4.2 4.2 0 1 0 -8.4 0M1121.9 518.4a4.2 4.2 0 1 0 8.4 0a4.2 4.2 0 1 0 -8.4 0M1123.8 513.4a4.2 4.2 0 1 0 8.4 0a4.2 4.2 0 1 0 -8.4 0M1125.7 508.3a4.2 4.2 0 1 0 8.4 0a4.2 4.2 0 1 0 -8.4 0M1127.6 503.1a4.2 4.2 0 1 0 8.4 0a4.2 4.2 0 1 0 -8.4 0M1129.5 497.8a4.2 4.2 0 1 0 8.4 0a4.2 4.2 0 1 0 -8.4 0M1131.5 492.4a4.2 4.2 0 1 0 8.4 0a4.2 4.2 0 1 0 -8.4 0M1133.5 486.8a4.2 4.2 0 1 0 8.4 0a4.2 4.2 0 1 0 -8.4 0M1135.4 481.2a4.2 4.2 0 1 0 8.4 0a4.2 4.2 0 1 0 -8.4 0M1137.4 475.4a4.2 4.2 0 1 0 8.4 0a4.2 4.2 0 1 0 -8.4 0M1139.4 469.4a4.2 4.2 0 1 0 8.4 0a4.2 4.2 0 1 0 -8.4 0M1141.4 463.3a4.2 4.2 0 1 0 8.4 0a4.2 4.2 0 1 0 -8.4 0M1143.5 457.0a4.2 4.2 0 1 0 8.4 0a4.2 4.2 0 1 0 -8.4 0M1145.5 450.5a4.2 4.2 0 1 0 8.4 0a4.2 4.2 0 1 0 -8.4 0M1147.6 443.8a4.2 4.2 0 1 0 8.4 0a4.2 4.2 0 1 0 -8.4 0M1149.6 436.9a4.2 4.2 0 1 0 8.4 0a4.2 4.2 0 1 0 -8.4 0M1151.7 429.7a4.2 4.2 0 1 0 8.4 0a4.2 4.2 0 1 0 -8.4 0M1153.8 422.3a4.2 4.2 0 1 0 8.4 0a4.2 4.2 0 1 0 -8.4 0M1155.9 414.8a4.2 4.2 0 1 0 8.4 0a4.2 4.2 0 1 0 -8.4 0M1158.1 407.2a4.2 4.2 0 1 0 8.4 0a4.2 4.2 0 1 0 -8.4 0M1160.2 399.6a4.2 4.2 0 1 0 8.4 0a4.2 4.2 0 1 0 -8.4 0M1162.4 392.1a4.2 4.2 0 1 0 8.4 0a4.2 4.2 0 1 0 -8.4 0M1164.5 384.6a4.2 4.2 0 1 0 8.4 0a4.2 4.2 0 1 0 -8.4 0M1166.7 377.2a4.2 4.2 0 1 0 8.4 0a4.2 4.2 0 1 0 -8.4 0M1168.9 369.8a4.2 4.2 0 1 0 8.4 0a4.2 4.2 0 1 0 -8.4 0M1171.1 362.4a4.2 4.2 0 1 0 8.4 0a4.2 4.2 0 1 0 -8.4 0M1173.4 355.0a4.2 4.2 0 1 0 8.4 0a4.2 4.2 0 1 0 -8.4 0M1175.6 347.7a4.2 4.2 0 1 0 8.4 0a4.2 4.2 0 1 0 -8.4 0M1177.9 340.4a4.2 4.2 0 1 0 8.4 0a4.2 4.2 0 1 0 -8.4 0M1180.1 333.0a4.2 4.2 0 1 0 8.4 0a4.2 4.2 0 1 0 -8.4 0M1182.4 325.7a4.2 4.2 0 1 0 8.4 0a4.2 4.2 0 1 0 -8.4 0M1184.7 318.3a4.2 4.2 0 1 0 8.4 0a4.2 4.2 0 1 0 -8.4 0M1187.1 310.9a4.2 4.2 0 1 0 8.4 0a4.2 4.2 0 1 0 -8.4 0M1189.4 303.5a4.2 4.2 0 1 0 8.4 0a4.2 4.2 0 1 0 -8.4 0M1191.8 296.0a4.2 4.2 0 1 0 8.4 0a4.2 4.2 0 1 0 -8.4 0M1194.1 288.5a4.2 4.2 0 1 0 8.4 0a4.2 4.2 0 1 0 -8.4 0M1196.5 281.0a4.2 4.2 0 1 0 8.4 0a4.2 4.2 0 1 0 -8.4 0M1198.9 273.4a4.2 4.2 0 1 0 8.4 0a4.2 4.2 0 1 0 -8.4 0M1201.4 265.7a4.2 4.2 0 1 0 8.4 0a4.2 4.2 0 1 0 -8.4 0M1203.8 258.0a4.2 4.2 0 1 0 8.4 0a4.2 4.2 0 1 0 -8.4 0M1206.3 250.2a4.2 4.2 0 1 0 8.4 0a4.2 4.2 0 1 0 -8.4 0M1208.8 242.3a4.2 4.2 0 1 0 8.4 0a4.2 4.2 0 1 0 -8.4 0M1211.2 234.4a4.2 4.2 0 1 0 8.4 0a4.2 4.2 0 1 0 -8.4 0M1213.8 226.4a4.2 4.2 0 1 0 8.4 0a4.2 4.2 0 1 0 -8.4 0M1216.3 218.5a4.2 4.2 0 1 0 8.4 0a4.2 4.2 0 1 0 -8.4 0M1218.9 210.7a4.2 4.2 0 1 0 8.4 0a4.2 4.2 0 1 0 -8.4 0M1221.4 203.0a4.2 4.2 0 1 0 8.4 0a4.2 4.2 0 1 0 -8.4 0M1224.0 195.5a4.2 4.2 0 1 0 8.4 0a4.2 4.2 0 1 0 -8.4 0M1226.6 188.1a4.2 4.2 0 1 0 8.4 0a4.2 4.2 0 1 0 -8.4 0M1229.3 180.9a4.2 4.2 0 1 0 8.4 0a4.2 4.2 0 1 0 -8.4 0M1231.9 173.9a4.2 4.2 0 1 0 8.4 0a4.2 4.2 0 1 0 -8.4 0M1234.6 167.1a4.2 4.2 0 1 0 8.4 0a4.2 4.2 0 1 0 -8.4 0M1237.3 160.5a4.2 4.2 0 1 0 8.4 0a4.2 4.2 0 1 0 -8.4 0M1240.0 154.1a4.2 4.2 0 1 0 8.4 0a4.2 4.2 0 1 0 -8.4 0" fill="none" stroke="#ff0000" stroke-width="3.4" stroke-linejoin="miter"/><path d="M711.2 662.3l6.0 9.6h-12.0zM712.4 662.2l6.0 9.6h-12.0zM713.6 662.2l6.0 9.6h-12.0zM714.9 662.1l6.0 9.6h-12.0zM716.2 662.1l6.0 9.6h-12.0zM717.4 662.0l6.0 9.6h-12.0zM718.8 661.9l6.0 9.6h-12.0zM720.1 661.9l6.0 9.6h-12.0zM721.4 661.8l6.0 9.6h-12.0zM722.8 661.7l6.0 9.6h-12.0zM724.2 661.6l6.0 9.6h-12.0zM725.4 661.6l6.0 9.6h-12.0zM726.6 661.5l6.0 9.6h-12.0zM727.9 661.4l6.0 9.6h-12.0zM729.1 661.3l6.0 9.6h-12.0zM730.4 661.3l6.0 9.6h-12.0zM731.7 661.2l6.0 9.6h-12.0zM733.0 661.1l6.0 9.6h-12.0zM734.3 661.0l6.0 9.6h-12.0zM735.6 660.9l6.0 9.6h-12.0zM737.0 660.8l6.0 9.6h-12.0zM738.4 660.7l6.0 9.6h-12.0zM739.7 660.6l6.0 9.6h-12.0zM741.2 660.5l6.0 9.6h-12.0zM742.6 660.3l6.0 9.6h-12.0zM743.8 660.2l6.0 9.6h-12.0zM745.0 660.1l6.0 9.6h-12.0zM746.2 660.0l6.0 9.6h-12.0zM747.5 659.9l6.0 9.6h-12.0zM748.7 659.8l6.0 9.6h-12.0zM750.0 659.7l6.0 9.6h-12.0zM751.3 659.5l6.0 9.6h-12.0zM752.6 659.4l6.0 9.6h-12.0zM753.9 659.2l6.0 9.6h-12.0zM755.3 659.1l6.0 9.6h-12.0zM756.6 658.9l6.0 9.6h-12.0zM758.0 658.8l6.0 9.6h-12.0zM759.4 658.6l6.0 9.6h-12.0zM760.8 658.4l6.0 9.6h-12.0zM762.2 658.2l6.0 9.6h-12.0zM763.7 658.1l6.0 9.6h-12.0zM765.1 657.9l6.0 9.6h-12.0zM766.6 657.6l6.0 9.6h-12.0zM767.8 657.5l6.0 9.6h-12.0zM769.0 657.3l6.0 9.6h-12.0zM770.2 657.1l6.0 9.6h-12.0zM771.4 656.9l6.0 9.6h-12.0zM772.7 656.7l6.0 9.6h-12.0zM774.0 656.5l6.0 9.6h-12.0zM775.2 656.3l6.0 9.6h-12.0zM776.5 656.1l6.0 9.6h-12.0zM777.8 655.8l6.0 9.6h-12.0zM779.1 655.6l6.0 9.6h-12.0zM780.4 655.3l6.0 9.6h-12.0zM781.8 655.1l6.0 9.6h-12.0zM783.1 654.8l6.0 9.6h-12.0zM784.5 654.6l6.0 9.6h-12.0zM785.9 654.3l6.0 9.6h-12.0zM787.3 654.0l6.0 9.6h-12.0zM788.7 653.7l6.0 9.6h-12.0zM790.1 653.4l6.0 9.6h-12.0zM791.6 653.0l6.0 9.6h-12.0zM793.0 652.7l6.0 9.6h-12.0zM794.5 652.4l6.0 9.6h-12.0zM796.0 652.0l6.0 9.6h-12.0zM797.5 651.6l6.0 9.6h-12.0zM799.1 651.2l6.0 9.6h-12.0zM800.6 650.8l6.0 9.6h-12.0zM801.8 650.5l6.0 9.6h-12.0zM803.0 650.2l6.0 9.6h-12.0zM804.1 649.9l6.0 9.6h-12.0zM805.4 649.6l6.0 9.6h-12.0zM806.6 649.2l6.0 9.6h-12.0zM807.8 648.9l6.0 9.6h-12.0zM809.0 648.5l6.0 9.6h-12.0zM810.3 648.1l6.0 9.6h-12.0zM811.5 647.8l6.0 9.6h-12.0zM812.8 647.4l6.0 9.6h-12.0zM814.1 647.0l6.0 9.6h-12.0zM815.4 646.5l6.0 9.6h-12.0zM816.7 646.1l6.0 9.6h-12.0zM818.0 645.7l6.0 9.6h-12.0zM819.3 645.2l6.0 9.6h-12.0zM820.7 644.8l6.0 9.6h-12.0zM822.0 644.3l6.0 9.6h-12.0zM823.4 643.8l6.0 9.6h-12.0zM824.8 643.3l6.0 9.6h-12.0zM826.2 642.8l6.0 9.6h-12.0zM827.6 642.3l6.0 9.6h-12.0zM829.0 641.7l6.0 9.6h-12.0zM830.4 641.2l6.0 9.6h-12.0zM831.9 640.6l6.0 9.6h-12.0zM833.3 640.0l6.0 9.6h-12.0zM834.8 639.4l6.0 9.6h-12.0zM836.3 638.8l6.0 9.6h-12.0zM837.8 638.1l6.0 9.6h-12.0zM839.3 637.5l6.0 9.6h-12.0zM840.8 636.8l6.0 9.6h-12.0zM842.4 636.1l6.0 9.6h-12.0zM844.0 635.3l6.0 9.6h-12.0zM845.5 634.6l6.0 9.6h-12.0zM847.1 633.8l6.0 9.6h-12.0zM848.8 633.0l6.0 9.6h-12.0zM849.8 632.4l6.0 9.6h-12.0zM850.9 631.9l6.0 9.6h-12.0zM852.0 631.3l6.0 9.6h-12.0zM853.1 630.7l6.0 9.6h-12.0zM854.3 630.1l6.0 9.6h-12.0zM855.4 629.5l6.0 9.6h-12.0zM856.5 628.9l6.0 9.6h-12.0zM857.6 628.3l6.0 9.6h-12.0zM858.8 627.7l6.0 9.6h-12.0zM859.9 627.0l6.0 9.6h-12.0zM861.1 626.4l6.0 9.6h-12.0zM862.3 625.7l6.0 9.6h-12.0zM863.5 625.0l6.0 9.6h-12.0zM864.6 624.3l6.0 9.6h-12.0zM865.8 623.6l6.0 9.6h-12.0zM867.0 622.9l6.0 9.6h-12.0zM868.3 622.2l6.0 9.6h-12.0zM869.5 621.4l6.0 9.6h-12.0zM870.7 620.7l6.0 9.6h-12.0zM872.0 619.9l6.0 9.6h-12.0zM873.2 619.2l6.0 9.6h-12.0zM874.5 618.4l6.0 9.6h-12.0zM875.7 617.6l6.0 9.6h-12.0zM877.0 616.8l6.0 9.6h-12.0zM878.3 616.0l6.0 9.6h-12.0zM879.6 615.2l6.0 9.6h-12.0zM880.9 614.3l6.0 9.6h-12.0zM882.2 613.5l6.0 9.6h-12.0zM883.5 612.7l6.0 9.6h-12.0zM884.9 611.8l6.0 9.6h-12.0zM886.2 610.9l6.0 9.6h-12.0zM887.6 610.1l6.0 9.6h-12.0zM888.9 609.2l6.0 9.6h-12.0zM890.3 608.3l6.0 9.6h-12.0zM891.7 607.4l6.0 9.6h-12.0zM893.1 606.5l6.0 9.6h-12.0zM894.5 605.6l6.0 9.6h-12.0zM895.9 604.7l6.0 9.6h-12.0zM897.4 603.8l6.0 9.6h-12.0zM898.8 602.8l6.0 9.6h-12.0zM900.3 601.9l6.0 9.6h-12.0zM901.7 601.0l6.0 9.6h-12.0zM903.2 600.0l6.0 9.6h-12.0zM904.7 599.1l6.0 9.6h-12.0zM906.2 598.2l6.0 9.6h-12.0zM907.7 597.2l6.0 9.6h-12.0zM909.2 596.3l6.0 9.6h-12.0zM910.8 595.3l6.0 9.6h-12.0zM912.3 594.3l6.0 9.6h-12.0zM913.9 593.3l6.0 9.6h-12.0zM915.5 592.4l6.0 9.6h-12.0zM917.0 591.4l6.0 9.6h-12.0zM918.6 590.3l6.0 9.6h-12.0zM920.3 589.3l6.0 9.6h-12.0zM921.9 588.3l6.0 9.6h-12.0zM923.5 587.2l6.0 9.6h-12.0zM925.2 586.2l6.0 9.6h-12.0zM926.9 585.1l6.0 9.6h-12.0zM928.5 584.0l6.0 9.6h-12.0zM930.2 582.9l6.0 9.6h-12.0zM932.0 581.8l6.0 9.6h-12.0zM933.7 580.6l6.0 9.6h-12.0zM935.4 579.4l6.0 9.6h-12.0zM937.2 578.2l6.0 9.6h-12.0zM939.0 577.0l6.0 9.6h-12.0zM940.7 575.7l6.0 9.6h-12.0zM942.6 574.4l6.0 9.6h-12.0zM944.4 573.1l6.0 9.6h-12.0zM946.2 571.7l6.0 9.6h-12.0zM948.1 570.3l6.0 9.6h-12.0zM949.9 568.8l6.0 9.6h-12.0zM950.9 568.1l6.0 9.6h-12.0zM951.8 567.3l6.0 9.6h-12.0zM952.8 566.6l6.0 9.6h-12.0zM953.7 565.8l6.0 9.6h-12.0zM954.7 565.0l6.0 9.6h-12.0zM955.6 564.2l6.0 9.6h-12.0zM956.6 563.3l6.0 9.6h-12.0zM957.6 562.5l6.0 9.6h-12.0zM958.6 561.6l6.0 9.6h-12.0zM959.5 560.7l6.0 9.6h-12.0zM960.5 559.8l6.0 9.6h-12.0zM961.5 558.9l6.0 9.6h-12.0zM962.5 558.0l6.0 9.6h-12.0zM963.5 557.0l6.0 9.6h-12.0zM964.5 556.0l6.0 9.6h-12.0zM965.5 555.0l6.0 9.6h-12.0zM966.5 554.0l6.0 9.6h-12.0zM967.6 552.9l6.0 9.6h-12.0zM968.6 551.8l6.0 9.6h-12.0zM969.6 550.7l6.0 9.6h-12.0zM970.6 549.6l6.0 9.6h-12.0zM971.7 548.4l6.0 9.6h-12.0zM972.7 547.3l6.0 9.6h-12.0zM973.8 546.0l6.0 9.6h-12.0zM974.8 544.8l6.0 9.6h-12.0zM975.9 543.5l6.0 9.6h-12.0zM976.9 542.2l6.0 9.6h-12.0zM978.0 540.9l6.0 9.6h-12.0zM979.1 539.5l6.0 9.6h-12.0zM980.2 538.1l6.0 9.6h-12.0zM981.2 536.7l6.0 9.6h-12.0zM982.3 535.2l6.0 9.6h-12.0zM983.4 533.7l6.0 9.6h-12.0zM984.5 532.1l6.0 9.6h-12.0zM985.6 530.5l6.0 9.6h-12.0zM986.7 528.9l6.0 9.6h-12.0zM987.8 527.2l6.0 9.6h-12.0zM989.0 525.5l6.0 9.6h-12.0zM990.1 523.8l6.0 9.6h-12.0zM991.2 521.9l6.0 9.6h-12.0zM992.4 520.1l6.0 9.6h-12.0zM993.5 518.2l6.0 9.6h-12.0zM994.6 516.2l6.0 9.6h-12.0zM995.8 514.2l6.0 9.6h-12.0zM997.0 512.1l6.0 9.6h-12.0zM998.1 510.0l6.0 9.6h-12.0zM999.3 507.8l6.0 9.6h-12.0zM1000.5 505.6l6.0 9.6h-12.0zM1001.7 503.3l6.0 9.6h-12.0zM1002.8 500.9l6.0 9.6h-12.0zM1004.0 498.5l6.0 9.6h-12.0zM1005.2 496.0l6.0 9.6h-12.0zM1006.4 493.4l6.0 9.6h-12.0zM1007.7 490.7l6.0 9.6h-12.0zM1008.9 488.0l6.0 9.6h-12.0zM1010.1 485.2l6.0 9.6h-12.0zM1011.3 482.3l6.0 9.6h-12.0zM1012.6 479.4l6.0 9.6h-12.0zM1013.8 476.3l6.0 9.6h-12.0zM1015.1 473.2l6.0 9.6h-12.0zM1016.3 470.0l6.0 9.6h-12.0zM1017.6 466.7l6.0 9.6h-12.0zM1018.9 463.4l6.0 9.6h-12.0zM1020.1 459.9l6.0 9.6h-12.0zM1021.4 456.4l6.0 9.6h-12.0zM1022.7 452.7l6.0 9.6h-12.0zM1024.0 449.0l6.0 9.6h-12.0zM1025.3 445.3l6.0 9.6h-12.0zM1026.6 441.4l6.0 9.6h-12.0zM1027.9 437.5l6.0 9.6h-12.0zM1029.3 433.5l6.0 9.6h-12.0zM1030.6 429.4l6.0 9.6h-12.0zM1031.9 425.3l6.0 9.6h-12.0zM1033.3 421.1l6.0 9.6h-12.0zM1034.6 416.8l6.0 9.6h-12.0zM1036.0 412.4l6.0 9.6h-12.0zM1037.4 408.0l6.0 9.6h-12.0zM1038.7 403.5l6.0 9.6h-12.0zM1040.1 399.0l6.0 9.6h-12.0zM1041.5 394.4l6.0 9.6h-12.0zM1042.9 389.8l6.0 9.6h-12.0zM1044.3 385.1l6.0 9.6h-12.0zM1045.7 380.4l6.0 9.6h-12.0zM1047.2 375.7l6.0 9.6h-12.0zM1048.6 370.9l6.0 9.6h-12.0zM1050.0 366.2l6.0 9.6h-12.0zM1051.5 361.4l6.0 9.6h-12.0zM1052.9 356.6l6.0 9.6h-12.0zM1054.4 351.8l6.0 9.6h-12.0zM1055.9 347.0l6.0 9.6h-12.0zM1057.3 342.2l6.0 9.6h-12.0zM1058.8 337.5l6.0 9.6h-12.0zM1060.3 332.7l6.0 9.6h-12.0zM1061.8 328.0l6.0 9.6h-12.0zM1063.3 323.4l6.0 9.6h-12.0zM1064.9 318.7l6.0 9.6h-12.0zM1066.4 314.1l6.0 9.6h-12.0zM1067.9 309.6l6.0 9.6h-12.0zM1069.5 305.0l6.0 9.6h-12.0zM1071.0 300.5l6.0 9.6h-12.0zM1072.6 295.9l6.0 9.6h-12.0zM1074.2 291.4l6.0 9.6h-12.0zM1075.8 286.9l6.0 9.6h-12.0zM1077.3 282.4l6.0 9.6h-12.0zM1078.9 277.8l6.0 9.6h-12.0zM1080.6 273.3l6.0 9.6h-12.0zM1082.2 268.8l6.0 9.6h-12.0zM1083.8 264.2l6.0 9.6h-12.0zM1085.5 259.6l6.0 9.6h-12.0zM1087.1 255.0l6.0 9.6h-12.0zM1088.8 250.3l6.0 9.6h-12.0zM1090.4 245.7l6.0 9.6h-12.0zM1092.1 241.0l6.0 9.6h-12.0zM1093.8 236.2l6.0 9.6h-12.0zM1095.5 231.4l6.0 9.6h-12.0zM1097.2 226.5l6.0 9.6h-12.0zM1098.9 221.6l6.0 9.6h-12.0zM1100.7 216.7l6.0 9.6h-12.0zM1102.4 211.6l6.0 9.6h-12.0zM1104.2 206.5l6.0 9.6h-12.0zM1105.9 201.3l6.0 9.6h-12.0zM1107.7 195.9l6.0 9.6h-12.0zM1109.5 190.5l6.0 9.6h-12.0zM1111.3 185.0l6.0 9.6h-12.0zM1113.1 179.3l6.0 9.6h-12.0zM1114.9 173.5l6.0 9.6h-12.0zM1116.7 167.7l6.0 9.6h-12.0zM1118.6 161.9l6.0 9.6h-12.0zM1120.4 156.2l6.0 9.6h-12.0zM1122.3 150.5l6.0 9.6h-12.0zM1124.2 145.0l6.0 9.6h-12.0zM1126.1 139.6l6.0 9.6h-12.0zM1128.0 134.5l6.0 9.6h-12.0zM1129.9 129.5l6.0 9.6h-12.0zM1131.8 124.7l6.0 9.6h-12.0zM1133.8 120.0l6.0 9.6h-12.0zM1135.7 115.5l6.0 9.6h-12.0zM1137.7 111.2l6.0 9.6h-12.0zM1139.6 107.2l6.0 9.6h-12.0zM1141.6 103.6l6.0 9.6h-12.0zM1143.6 100.4l6.0 9.6h-12.0zM1145.6 97.7l6.0 9.6h-12.0zM1147.7 95.4l6.0 9.6h-12.0zM1149.7 93.6l6.0 9.6h-12.0zM1151.8 92.1l6.0 9.6h-12.0zM1153.8 91.0l6.0 9.6h-12.0zM1155.9 90.3l6.0 9.6h-12.0zM1158.0 89.8l6.0 9.6h-12.0zM1160.1 89.6l6.0 9.6h-12.0zM1162.3 89.7l6.0 9.6h-12.0zM1164.4 89.9l6.0 9.6h-12.0zM1166.6 90.4l6.0 9.6h-12.0zM1168.7 91.1l6.0 9.6h-12.0zM1170.9 92.1l6.0 9.6h-12.0zM1173.1 93.5l6.0 9.6h-12.0zM1175.3 95.3l6.0 9.6h-12.0zM1177.6 97.6l6.0 9.6h-12.0zM1179.8 100.4l6.0 9.6h-12.0zM1182.1 103.5l6.0 9.6h-12.0zM1184.3 106.7l6.0 9.6h-12.0zM1186.6 109.8l6.0 9.6h-12.0zM1188.9 112.6l6.0 9.6h-12.0zM1191.3 115.2l6.0 9.6h-12.0zM1193.6 117.7l6.0 9.6h-12.0zM1196.0 120.1l6.0 9.6h-12.0zM1198.3 122.4l6.0 9.6h-12.0zM1200.7 124.7l6.0 9.6h-12.0zM1203.1 127.0l6.0 9.6h-12.0zM1205.6 129.2l6.0 9.6h-12.0zM1208.0 131.5l6.0 9.6h-12.0zM1210.5 133.9l6.0 9.6h-12.0zM1213.0 136.3l6.0 9.6h-12.0zM1215.4 138.9l6.0 9.6h-12.0zM1218.0 141.6l6.0 9.6h-12.0zM1220.5 144.6l6.0 9.6h-12.0zM1223.1 147.9l6.0 9.6h-12.0zM1225.6 151.8l6.0 9.6h-12.0zM1228.2 156.4l6.0 9.6h-12.0zM1230.8 162.3l6.0 9.6h-12.0zM1233.5 169.4l6.0 9.6h-12.0zM1236.1 176.9l6.0 9.6h-12.0zM1238.8 183.7l6.0 9.6h-12.0zM1241.5 189.4l6.0 9.6h-12.0zM1244.2 193.8l6.0 9.6h-12.0z" fill="none" stroke="#0000ff" stroke-width="3.0" stroke-linejoin="miter"/><path d="M711.2 668.7l6.0 -9.6h-12.0zM712.4 668.7l6.0 -9.6h-12.0zM713.6 668.6l6.0 -9.6h-12.0zM714.9 668.6l6.0 -9.6h-12.0zM716.2 668.5l6.0 -9.6h-12.0zM717.4 668.4l6.0 -9.6h-12.0zM718.8 668.3l6.0 -9.6h-12.0zM720.1 668.2l6.0 -9.6h-12.0zM721.4 668.0l6.0 -9.6h-12.0zM722.8 667.9l6.0 -9.6h-12.0zM724.2 667.7l6.0 -9.6h-12.0zM725.4 667.6l6.0 -9.6h-12.0zM726.6 667.4l6.0 -9.6h-12.0zM727.9 667.2l6.0 -9.6h-12.0zM729.1 667.0l6.0 -9.6h-12.0zM730.4 666.8l6.0 -9.6h-12.0zM731.7 666.6l6.0 -9.6h-12.0zM733.0 666.3l6.0 -9.6h-12.0zM734.3 666.1l6.0 -9.6h-12.0zM735.6 665.8l6.0 -9.6h-12.0zM737.0 665.5l6.0 -9.6h-12.0zM738.4 665.2l6.0 -9.6h-12.0zM739.7 664.9l6.0 -9.6h-12.0zM740.9 664.6l6.0 -9.6h-12.0zM742.1 664.3l6.0 -9.6h-12.0zM743.3 664.0l6.0 -9.6h-12.0zM744.5 663.6l6.0 -9.6h-12.0zM745.7 663.3l6.0 -9.6h-12.0zM747.0 662.9l6.0 -9.6h-12.0zM748.2 662.5l6.0 -9.6h-12.0zM749.5 662.1l6.0 -9.6h-12.0zM750.8 661.7l6.0 -9.6h-12.0zM752.1 661.3l6.0 -9.6h-12.0zM753.4 660.8l6.0 -9.6h-12.0zM754.7 660.3l6.0 -9.6h-12.0zM756.1 659.8l6.0 -9.6h-12.0zM757.5 659.3l6.0 -9.6h-12.0zM758.8 658.8l6.0 -9.6h-12.0zM760.0 658.3l6.0 -9.6h-12.0zM761.1 657.9l6.0 -9.6h-12.0zM762.2 657.4l6.0 -9.6h-12.0zM763.4 656.9l6.0 -9.6h-12.0zM764.5 656.4l6.0 -9.6h-12.0zM765.7 655.9l6.0 -9.6h-12.0zM766.9 655.4l6.0 -9.6h-12.0zM768.1 654.8l6.0 -9.6h-12.0zM769.3 654.3l6.0 -9.6h-12.0zM770.5 653.7l6.0 -9.6h-12.0zM771.8 653.1l6.0 -9.6h-12.0zM773.0 652.5l6.0 -9.6h-12.0zM774.3 651.8l6.0 -9.6h-12.0zM775.5 651.2l6.0 -9.6h-12.0zM776.8 650.5l6.0 -9.6h-12.0zM778.1 649.8l6.0 -9.6h-12.0zM779.4 649.1l6.0 -9.6h-12.0zM780.8 648.4l6.0 -9.6h-12.0zM782.1 647.6l6.0 -9.6h-12.0zM783.5 646.9l6.0 -9.6h-12.0zM784.8 646.1l6.0 -9.6h-12.0zM785.9 645.5l6.0 -9.6h-12.0zM786.9 644.8l6.0 -9.6h-12.0zM788.0 644.2l6.0 -9.6h-12.0zM789.1 643.6l6.0 -9.6h-12.0zM790.1 642.9l6.0 -9.6h-12.0zM791.2 642.2l6.0 -9.6h-12.0zM792.3 641.6l6.0 -9.6h-12.0zM793.4 640.9l6.0 -9.6h-12.0zM794.5 640.2l6.0 -9.6h-12.0zM795.6 639.4l6.0 -9.6h-12.0zM796.8 638.7l6.0 -9.6h-12.0zM797.9 637.9l6.0 -9.6h-12.0zM799.1 637.2l6.0 -9.6h-12.0zM800.2 636.4l6.0 -9.6h-12.0zM801.4 635.6l6.0 -9.6h-12.0zM802.6 634.8l6.0 -9.6h-12.0zM803.8 634.0l6.0 -9.6h-12.0zM805.0 633.2l6.0 -9.6h-12.0zM806.2 632.3l6.0 -9.6h-12.0zM807.4 631.4l6.0 -9.6h-12.0zM808.6 630.6l6.0 -9.6h-12.0zM809.9 629.7l6.0 -9.6h-12.0zM811.1 628.7l6.0 -9.6h-12.0zM812.4 627.8l6.0 -9.6h-12.0zM813.7 626.9l6.0 -9.6h-12.0zM814.9 625.9l6.0 -9.6h-12.0zM816.2 625.0l6.0 -9.6h-12.0zM817.6 624.0l6.0 -9.6h-12.0zM818.9 623.0l6.0 -9.6h-12.0zM820.2 621.9l6.0 -9.6h-12.0zM821.6 620.9l6.0 -9.6h-12.0zM822.9 619.9l6.0 -9.6h-12.0zM824.3 618.8l6.0 -9.6h-12.0zM825.7 617.7l6.0 -9.6h-12.0zM827.1 616.6l6.0 -9.6h-12.0zM828.5 615.5l6.0 -9.6h-12.0zM829.5 614.8l6.0 -9.6h-12.0zM830.4 614.0l6.0 -9.6h-12.0zM831.4 613.2l6.0 -9.6h-12.0zM832.4 612.5l6.0 -9.6h-12.0zM833.3 611.7l6.0 -9.6h-12.0zM834.3 610.9l6.0 -9.6h-12.0zM835.3 610.1l6.0 -9.6h-12.0zM836.3 609.3l6.0 -9.6h-12.0zM837.3 608.5l6.0 -9.6h-12.0zM838.3 607.7l6.0 -9.6h-12.0zM839.3 606.9l6.0 -9.6h-12.0zM840.3 606.1l6.0 -9.6h-12.0zM841.4 605.2l6.0 -9.6h-12.0zM842.4 604.4l6.0 -9.6h-12.0zM843.4 603.6l6.0 -9.6h-12.0zM844.5 602.7l6.0 -9.6h-12.0zM845.5 601.9l6.0 -9.6h-12.0zM846.6 601.0l6.0 -9.6h-12.0zM847.7 600.1l6.0 -9.6h-12.0zM848.8 599.3l6.0 -9.6h-12.0zM849.8 598.4l6.0 -9.6h-12.0zM850.9 597.5l6.0 -9.6h-12.0zM852.0 596.6l6.0 -9.6h-12.0zM853.1 595.7l6.0 -9.6h-12.0zM854.3 594.8l6.0 -9.6h-12.0zM855.4 594.0l6.0 -9.6h-12.0zM856.5 593.0l6.0 -9.6h-12.0zM857.6 592.1l6.0 -9.6h-12.0zM858.8 591.2l6.0 -9.6h-12.0zM859.9 590.3l6.0 -9.6h-12.0zM861.1 589.4l6.0 -9.6h-12.0zM862.3 588.5l6.0 -9.6h-12.0zM863.5 587.5l6.0 -9.6h-12.0zM864.6 586.6l6.0 -9.6h-12.0zM865.8 585.7l6.0 -9.6h-12.0zM867.0 584.7l6.0 -9.6h-12.0zM868.3 583.8l6.0 -9.6h-12.0zM869.5 582.9l6.0 -9.6h-12.0zM870.7 581.9l6.0 -9.6h-12.0zM872.0 581.0l6.0 -9.6h-12.0zM873.2 580.0l6.0 -9.6h-12.0zM874.5 579.1l6.0 -9.6h-12.0zM875.7 578.1l6.0 -9.6h-12.0zM877.0 577.2l6.0 -9.6h-12.0zM878.3 576.3l6.0 -9.6h-12.0zM879.6 575.3l6.0 -9.6h-12.0zM880.9 574.4l6.0 -9.6h-12.0zM882.2 573.4l6.0 -9.6h-12.0zM883.5 572.5l6.0 -9.6h-12.0zM884.9 571.5l6.0 -9.6h-12.0zM886.2 570.6l6.0 -9.6h-12.0zM887.6 569.7l6.0 -9.6h-12.0zM888.9 568.7l6.0 -9.6h-12.0zM890.3 567.8l6.0 -9.6h-12.0zM891.7 566.9l6.0 -9.6h-12.0zM893.1 565.9l6.0 -9.6h-12.0zM894.5 565.0l6.0 -9.6h-12.0zM895.9 564.1l6.0 -9.6h-12.0zM897.4 563.2l6.0 -9.6h-12.0zM898.8 562.2l6.0 -9.6h-12.0zM900.3 561.3l6.0 -9.6h-12.0zM901.7 560.4l6.0 -9.6h-12.0zM903.2 559.5l6.0 -9.6h-12.0zM904.7 558.5l6.0 -9.6h-12.0zM906.2 557.6l6.0 -9.6h-12.0zM907.7 556.6l6.0 -9.6h-12.0zM909.2 555.7l6.0 -9.6h-12.0zM910.8 554.7l6.0 -9.6h-12.0zM912.3 553.8l6.0 -9.6h-12.0zM913.9 552.8l6.0 -9.6h-12.0zM915.5 551.8l6.0 -9.6h-12.0zM917.0 550.8l6.0 -9.6h-12.0zM918.6 549.8l6.0 -9.6h-12.0zM920.3 548.8l6.0 -9.6h-12.0zM921.9 547.8l6.0 -9.6h-12.0zM923.5 546.7l6.0 -9.6h-12.0zM925.2 545.6l6.0 -9.6h-12.0zM926.9 544.5l6.0 -9.6h-12.0zM928.5 543.4l6.0 -9.6h-12.0zM930.2 542.3l6.0 -9.6h-12.0zM932.0 541.1l6.0 -9.6h-12.0zM933.7 539.9l6.0 -9.6h-12.0zM935.4 538.7l6.0 -9.6h-12.0zM937.2 537.4l6.0 -9.6h-12.0zM939.0 536.1l6.0 -9.6h-12.0zM940.7 534.7l6.0 -9.6h-12.0zM942.6 533.4l6.0 -9.6h-12.0zM944.4 531.9l6.0 -9.6h-12.0zM946.2 530.4l6.0 -9.6h-12.0zM948.1 528.9l6.0 -9.6h-12.0zM949.0 528.1l6.0 -9.6h-12.0zM949.9 527.3l6.0 -9.6h-12.0zM950.9 526.5l6.0 -9.6h-12.0zM951.8 525.7l6.0 -9.6h-12.0zM952.8 524.8l6.0 -9.6h-12.0zM953.7 524.0l6.0 -9.6h-12.0zM954.7 523.1l6.0 -9.6h-12.0zM955.6 522.2l6.0 -9.6h-12.0zM956.6 521.3l6.0 -9.6h-12.0zM957.6 520.4l6.0 -9.6h-12.0zM958.6 519.5l6.0 -9.6h-12.0zM959.5 518.5l6.0 -9.6h-12.0zM960.5 517.6l6.0 -9.6h-12.0zM961.5 516.6l6.0 -9.6h-12.0zM962.5 515.6l6.0 -9.6h-12.0zM963.5 514.6l6.0 -9.6h-12.0zM964.5 513.5l6.0 -9.6h-12.0zM965.5 512.5l6.0 -9.6h-12.0zM966.5 511.4l6.0 -9.6h-12.0zM967.6 510.3l6.0 -9.6h-12.0zM968.6 509.2l6.0 -9.6h-12.0zM969.6 508.0l6.0 -9.6h-12.0zM970.6 506.9l6.0 -9.6h-12.0zM971.7 505.7l6.0 -9.6h-12.0zM972.7 504.5l6.0 -9.6h-12.0zM973.8 503.3l6.0 -9.6h-12.0zM974.8 502.0l6.0 -9.6h-12.0zM975.9 500.7l6.0 -9.6h-12.0zM976.9 499.4l6.0 -9.6h-12.0zM978.0 498.1l6.0 -9.6h-12.0zM979.1 496.7l6.0 -9.6h-12.0zM980.2 495.3l6.0 -9.6h-12.0zM981.2 493.9l6.0 -9.6h-12.0zM982.3 492.4l6.0 -9.6h-12.0zM983.4 490.9l6.0 -9.6h-12.0zM984.5 489.4l6.0 -9.6h-12.0zM985.6 487.8l6.0 -9.6h-12.0zM986.7 486.2l6.0 -9.6h-12.0zM987.8 484.6l6.0 -9.6h-12.0zM989.0 482.9l6.0 -9.6h-12.0zM990.1 481.1l6.0 -9.6h-12.0zM991.2 479.3l6.0 -9.6h-12.0zM992.4 477.5l6.0 -9.6h-12.0zM993.5 475.6l6.0 -9.6h-12.0zM994.6 473.6l6.0 -9.6h-12.0zM995.8 471.6l6.0 -9.6h-12.0zM997.0 469.5l6.0 -9.6h-12.0zM998.1 467.4l6.0 -9.6h-12.0zM999.3 465.2l6.0 -9.6h-12.0zM1000.5 462.9l6.0 -9.6h-12.0zM1001.7 460.6l6.0 -9.6h-12.0zM1002.8 458.2l6.0 -9.6h-12.0zM1004.0 455.7l6.0 -9.6h-12.0zM1005.2 453.1l6.0 -9.6h-12.0zM1006.4 450.4l6.0 -9.6h-12.0zM1007.7 447.7l6.0 -9.6h-12.0zM1008.9 444.8l6.0 -9.6h-12.0zM1010.1 441.9l6.0 -9.6h-12.0zM1011.3 438.9l6.0 -9.6h-12.0zM1012.6 435.7l6.0 -9.6h-12.0zM1013.8 432.5l6.0 -9.6h-12.0zM1015.1 429.1l6.0 -9.6h-12.0zM1016.3 425.6l6.0 -9.6h-12.0zM1017.6 422.0l6.0 -9.6h-12.0zM1018.9 418.3l6.0 -9.6h-12.0zM1020.1 414.5l6.0 -9.6h-12.0zM1021.4 410.5l6.0 -9.6h-12.0zM1022.7 406.5l6.0 -9.6h-12.0zM1024.0 402.3l6.0 -9.6h-12.0zM1025.3 398.0l6.0 -9.6h-12.0zM1026.6 393.6l6.0 -9.6h-12.0zM1027.9 389.2l6.0 -9.6h-12.0zM1029.3 384.6l6.0 -9.6h-12.0zM1030.6 380.0l6.0 -9.6h-12.0zM1031.9 375.4l6.0 -9.6h-12.0zM1033.3 370.7l6.0 -9.6h-12.0zM1034.6 365.9l6.0 -9.6h-12.0zM1036.0 361.2l6.0 -9.6h-12.0zM1037.4 356.4l6.0 -9.6h-12.0zM1038.7 351.5l6.0 -9.6h-12.0zM1040.1 346.7l6.0 -9.6h-12.0zM1041.5 341.8l6.0 -9.6h-12.0zM1042.9 336.9l6.0 -9.6h-12.0zM1044.3 331.9l6.0 -9.6h-12.0zM1045.7 326.9l6.0 -9.6h-12.0zM1047.2 321.9l6.0 -9.6h-12.0zM1048.6 316.8l6.0 -9.6h-12.0zM1050.0 311.7l6.0 -9.6h-12.0zM1051.5 306.6l6.0 -9.6h-12.0zM1052.9 301.5l6.0 -9.6h-12.0zM1054.4 296.3l6.0 -9.6h-12.0zM1055.9 291.1l6.0 -9.6h-12.0zM1057.3 285.9l6.0 -9.6h-12.0zM1058.8 280.7l6.0 -9.6h-12.0zM1060.3 275.4l6.0 -9.6h-12.0zM1061.8 270.1l6.0 -9.6h-12.0zM1063.3 264.8l6.0 -9.6h-12.0zM1064.9 259.4l6.0 -9.6h-12.0zM1066.4 254.1l6.0 -9.6h-12.0zM1067.9 248.7l6.0 -9.6h-12.0zM1069.5 243.3l6.0 -9.6h-12.0zM1071.0 237.9l6.0 -9.6h-12.0zM1072.6 232.4l6.0 -9.6h-12.0zM1074.2 227.0l6.0 -9.6h-12.0zM1075.8 221.5l6.0 -9.6h-12.0zM1077.3 216.0l6.0 -9.6h-12.0zM1078.9 210.5l6.0 -9.6h-12.0zM1080.6 205.0l6.0 -9.6h-12.0zM1082.2 199.4l6.0 -9.6h-12.0zM1083.8 193.9l6.0 -9.6h-12.0zM1085.5 188.3l6.0 -9.6h-12.0zM1087.1 182.8l6.0 -9.6h-12.0zM1088.8 177.2l6.0 -9.6h-12.0zM1090.4 171.6l6.0 -9.6h-12.0zM1092.1 166.0l6.0 -9.6h-12.0zM1093.8 160.5l6.0 -9.6h-12.0zM1095.5 154.9l6.0 -9.6h-12.0zM1097.2 149.3l6.0 -9.6h-12.0zM1098.9 143.7l6.0 -9.6h-12.0zM1100.7 138.0l6.0 -9.6h-12.0zM1102.4 132.4l6.0 -9.6h-12.0zM1104.2 126.7l6.0 -9.6h-12.0zM1105.9 121.0l6.0 -9.6h-12.0zM1107.7 115.2l6.0 -9.6h-12.0zM1109.5 109.4l6.0 -9.6h-12.0zM1111.3 103.6l6.0 -9.6h-12.0zM1113.1 97.6l6.0 -9.6h-12.0zM1114.9 91.7l6.0 -9.6h-12.0zM1116.7 85.8l6.0 -9.6h-12.0zM1118.6 80.4l6.0 -9.6h-12.0zM1120.4 75.6l6.0 -9.6h-12.0zM1122.3 71.3l6.0 -9.6h-12.0zM1124.2 67.7l6.0 -9.6h-12.0zM1126.1 64.5l6.0 -9.6h-12.0zM1128.0 61.8l6.0 -9.6h-12.0zM1129.9 59.5l6.0 -9.6h-12.0zM1131.8 57.5l6.0 -9.6h-12.0zM1133.8 55.9l6.0 -9.6h-12.0zM1135.7 54.5l6.0 -9.6h-12.0zM1137.7 53.4l6.0 -9.6h-12.0zM1139.6 52.5l6.0 -9.6h-12.0zM1141.6 51.8l6.0 -9.6h-12.0zM1143.6 51.2l6.0 -9.6h-12.0zM1145.6 50.8l6.0 -9.6h-12.0zM1147.7 50.6l6.0 -9.6h-12.0zM1149.7 50.5l6.0 -9.6h-12.0zM1151.8 50.7l6.0 -9.6h-12.0zM1153.8 51.0l6.0 -9.6h-12.0zM1155.9 51.5l6.0 -9.6h-12.0zM1158.0 52.2l6.0 -9.6h-12.0zM1160.1 53.3l6.0 -9.6h-12.0zM1162.3 54.7l6.0 -9.6h-12.0zM1164.4 56.5l6.0 -9.6h-12.0zM1166.6 58.7l6.0 -9.6h-12.0zM1168.7 61.2l6.0 -9.6h-12.0zM1170.9 64.1l6.0 -9.6h-12.0zM1173.1 67.2l6.0 -9.6h-12.0zM1175.3 70.6l6.0 -9.6h-12.0zM1177.6 74.2l6.0 -9.6h-12.0zM1179.8 78.0l6.0 -9.6h-12.0zM1182.1 82.0l6.0 -9.6h-12.0zM1184.3 86.3l6.0 -9.6h-12.0zM1186.6 90.9l6.0 -9.6h-12.0zM1188.9 95.6l6.0 -9.6h-12.0zM1191.3 100.6l6.0 -9.6h-12.0zM1193.6 105.8l6.0 -9.6h-12.0zM1196.0 111.3l6.0 -9.6h-12.0zM1198.3 116.9l6.0 -9.6h-12.0zM1200.7 122.8l6.0 -9.6h-12.0zM1203.1 129.0l6.0 -9.6h-12.0zM1205.6 135.4l6.0 -9.6h-12.0zM1208.0 142.1l6.0 -9.6h-12.0zM1210.5 149.0l6.0 -9.6h-12.0zM1213.0 156.1l6.0 -9.6h-12.0zM1215.4 163.5l6.0 -9.6h-12.0zM1218.0 171.0l6.0 -9.6h-12.0zM1220.5 178.7l6.0 -9.6h-12.0zM1223.1 186.6l6.0 -9.6h-12.0zM1225.6 194.5l6.0 -9.6h-12.0zM1228.2 202.4l6.0 -9.6h-12.0zM1230.8 210.3l6.0 -9.6h-12.0zM1233.5 218.1l6.0 -9.6h-12.0zM1236.1 225.8l6.0 -9.6h-12.0zM1238.8 233.4l6.0 -9.6h-12.0zM1241.5 240.8l6.0 -9.6h-12.0zM1244.2 248.0l6.0 -9.6h-12.0z" fill="none" stroke="#ff8000" stroke-width="3.0" stroke-linejoin="miter"/><path d="M705.5 664.0l9.6 -6.0v12.0zM706.7 664.1l9.6 -6.0v12.0zM707.9 664.2l9.6 -6.0v12.0zM709.2 664.2l9.6 -6.0v12.0zM710.5 664.3l9.6 -6.0v12.0zM711.7 664.3l9.6 -6.0v12.0zM713.1 664.3l9.6 -6.0v12.0zM714.4 664.3l9.6 -6.0v12.0zM715.7 664.3l9.6 -6.0v12.0zM717.1 664.3l9.6 -6.0v12.0zM718.5 664.3l9.6 -6.0v12.0zM719.7 664.2l9.6 -6.0v12.0zM720.9 664.2l9.6 -6.0v12.0zM722.2 664.1l9.6 -6.0v12.0zM723.4 664.1l9.6 -6.0v12.0zM724.7 664.0l9.6 -6.0v12.0zM726.0 663.9l9.6 -6.0v12.0zM727.3 663.8l9.6 -6.0v12.0zM728.6 663.6l9.6 -6.0v12.0zM729.9 663.5l9.6 -6.0v12.0zM731.3 663.3l9.6 -6.0v12.0zM732.7 663.2l9.6 -6.0v12.0zM734.0 663.0l9.6 -6.0v12.0zM735.5 662.8l9.6 -6.0v12.0zM736.6 662.6l9.6 -6.0v12.0zM737.8 662.4l9.6 -6.0v12.0zM739.1 662.2l9.6 -6.0v12.0zM740.3 662.0l9.6 -6.0v12.0zM741.5 661.8l9.6 -6.0v12.0zM742.8 661.5l9.6 -6.0v12.0zM744.1 661.3l9.6 -6.0v12.0zM745.4 661.0l9.6 -6.0v12.0zM746.7 660.8l9.6 -6.0v12.0zM748.0 660.5l9.6 -6.0v12.0zM749.3 660.2l9.6 -6.0v12.0zM750.7 659.8l9.6 -6.0v12.0zM752.0 659.5l9.6 -6.0v12.0zM753.4 659.2l9.6 -6.0v12.0zM754.8 658.8l9.6 -6.0v12.0zM756.2 658.4l9.6 -6.0v12.0zM757.7 658.0l9.6 -6.0v12.0zM758.8 657.7l9.6 -6.0v12.0zM760.0 657.4l9.6 -6.0v12.0zM761.2 657.0l9.6 -6.0v12.0zM762.4 656.7l9.6 -6.0v12.0zM763.6 656.3l9.6 -6.0v12.0zM764.8 655.9l9.6 -6.0v12.0zM766.1 655.5l9.6 -6.0v12.0zM767.3 655.1l9.6 -6.0v12.0zM768.6 654.7l9.6 -6.0v12.0zM769.8 654.3l9.6 -6.0v12.0zM771.1 653.9l9.6 -6.0v12.0zM772.4 653.4l9.6 -6.0v12.0zM773.7 652.9l9.6 -6.0v12.0zM775.1 652.5l9.6 -6.0v12.0zM776.4 652.0l9.6 -6.0v12.0zM777.8 651.5l9.6 -6.0v12.0zM779.1 651.0l9.6 -6.0v12.0zM780.5 650.5l9.6 -6.0v12.0zM781.9 649.9l9.6 -6.0v12.0zM783.4 649.4l9.6 -6.0v12.0zM784.8 648.8l9.6 -6.0v12.0zM786.2 648.3l9.6 -6.0v12.0zM787.7 647.7l9.6 -6.0v12.0zM789.2 647.1l9.6 -6.0v12.0zM790.3 646.7l9.6 -6.0v12.0zM791.4 646.2l9.6 -6.0v12.0zM792.6 645.7l9.6 -6.0v12.0zM793.7 645.3l9.6 -6.0v12.0zM794.9 644.8l9.6 -6.0v12.0zM796.1 644.3l9.6 -6.0v12.0zM797.3 643.8l9.6 -6.0v12.0zM798.4 643.3l9.6 -6.0v12.0zM799.7 642.8l9.6 -6.0v12.0zM800.9 642.3l9.6 -6.0v12.0zM802.1 641.8l9.6 -6.0v12.0zM803.3 641.2l9.6 -6.0v12.0zM804.6 640.7l9.6 -6.0v12.0zM805.8 640.1l9.6 -6.0v12.0zM807.1 639.6l9.6 -6.0v12.0zM808.4 639.0l9.6 -6.0v12.0zM809.7 638.4l9.6 -6.0v12.0zM811.0 637.9l9.6 -6.0v12.0zM812.3 637.3l9.6 -6.0v12.0zM813.6 636.7l9.6 -6.0v12.0zM815.0 636.1l9.6 -6.0v12.0zM816.3 635.4l9.6 -6.0v12.0zM817.7 634.8l9.6 -6.0v12.0zM819.1 634.2l9.6 -6.0v12.0zM820.5 633.5l9.6 -6.0v12.0zM821.9 632.8l9.6 -6.0v12.0zM823.3 632.2l9.6 -6.0v12.0zM824.7 631.5l9.6 -6.0v12.0zM826.2 630.8l9.6 -6.0v12.0zM827.6 630.0l9.6 -6.0v12.0zM829.1 629.3l9.6 -6.0v12.0zM830.6 628.6l9.6 -6.0v12.0zM832.1 627.8l9.6 -6.0v12.0zM833.6 627.0l9.6 -6.0v12.0zM835.1 626.3l9.6 -6.0v12.0zM836.7 625.4l9.6 -6.0v12.0zM838.3 624.6l9.6 -6.0v12.0zM839.8 623.8l9.6 -6.0v12.0zM840.9 623.2l9.6 -6.0v12.0zM842.0 622.6l9.6 -6.0v12.0zM843.1 622.1l9.6 -6.0v12.0zM844.1 621.5l9.6 -6.0v12.0zM845.2 620.9l9.6 -6.0v12.0zM846.3 620.2l9.6 -6.0v12.0zM847.4 619.6l9.6 -6.0v12.0zM848.6 619.0l9.6 -6.0v12.0zM849.7 618.4l9.6 -6.0v12.0zM850.8 617.7l9.6 -6.0v12.0zM851.9 617.0l9.6 -6.0v12.0zM853.1 616.4l9.6 -6.0v12.0zM854.2 615.7l9.6 -6.0v12.0zM855.4 615.0l9.6 -6.0v12.0zM856.6 614.3l9.6 -6.0v12.0zM857.8 613.6l9.6 -6.0v12.0zM858.9 612.9l9.6 -6.0v12.0zM860.1 612.1l9.6 -6.0v12.0zM861.3 611.4l9.6 -6.0v12.0zM862.6 610.6l9.6 -6.0v12.0zM863.8 609.8l9.6 -6.0v12.0zM865.0 609.1l9.6 -6.0v12.0zM866.2 608.2l9.6 -6.0v12.0zM867.5 607.4l9.6 -6.0v12.0zM868.8 606.6l9.6 -6.0v12.0zM870.0 605.7l9.6 -6.0v12.0zM871.3 604.9l9.6 -6.0v12.0zM872.6 604.0l9.6 -6.0v12.0zM873.9 603.1l9.6 -6.0v12.0zM875.2 602.2l9.6 -6.0v12.0zM876.5 601.3l9.6 -6.0v12.0zM877.8 600.3l9.6 -6.0v12.0zM879.2 599.3l9.6 -6.0v12.0zM880.5 598.4l9.6 -6.0v12.0zM881.9 597.4l9.6 -6.0v12.0zM883.2 596.3l9.6 -6.0v12.0zM884.6 595.3l9.6 -6.0v12.0zM886.0 594.3l9.6 -6.0v12.0zM887.4 593.2l9.6 -6.0v12.0zM888.8 592.1l9.6 -6.0v12.0zM890.2 591.0l9.6 -6.0v12.0zM891.7 589.9l9.6 -6.0v12.0zM893.1 588.8l9.6 -6.0v12.0zM894.6 587.7l9.6 -6.0v12.0zM896.0 586.5l9.6 -6.0v12.0zM897.5 585.4l9.6 -6.0v12.0zM899.0 584.2l9.6 -6.0v12.0zM900.5 583.0l9.6 -6.0v12.0zM902.0 581.8l9.6 -6.0v12.0zM903.5 580.6l9.6 -6.0v12.0zM905.1 579.4l9.6 -6.0v12.0zM906.6 578.2l9.6 -6.0v12.0zM908.2 577.0l9.6 -6.0v12.0zM909.8 575.8l9.6 -6.0v12.0zM911.3 574.6l9.6 -6.0v12.0zM912.9 573.3l9.6 -6.0v12.0zM914.6 572.1l9.6 -6.0v12.0zM916.2 570.8l9.6 -6.0v12.0zM917.8 569.6l9.6 -6.0v12.0zM919.5 568.3l9.6 -6.0v12.0zM921.2 567.0l9.6 -6.0v12.0zM922.8 565.8l9.6 -6.0v12.0zM924.5 564.4l9.6 -6.0v12.0zM926.3 563.1l9.6 -6.0v12.0zM928.0 561.8l9.6 -6.0v12.0zM929.7 560.4l9.6 -6.0v12.0zM931.5 559.0l9.6 -6.0v12.0zM933.3 557.6l9.6 -6.0v12.0zM935.0 556.1l9.6 -6.0v12.0zM936.9 554.6l9.6 -6.0v12.0zM938.7 553.1l9.6 -6.0v12.0zM939.6 552.3l9.6 -6.0v12.0zM940.5 551.5l9.6 -6.0v12.0zM941.4 550.7l9.6 -6.0v12.0zM942.4 549.9l9.6 -6.0v12.0zM943.3 549.1l9.6 -6.0v12.0zM944.2 548.2l9.6 -6.0v12.0zM945.2 547.4l9.6 -6.0v12.0zM946.1 546.5l9.6 -6.0v12.0zM947.1 545.6l9.6 -6.0v12.0zM948.0 544.7l9.6 -6.0v12.0zM949.0 543.8l9.6 -6.0v12.0zM949.9 542.9l9.6 -6.0v12.0zM950.9 541.9l9.6 -6.0v12.0zM951.9 540.9l9.6 -6.0v12.0zM952.9 539.9l9.6 -6.0v12.0zM953.8 538.9l9.6 -6.0v12.0zM954.8 537.9l9.6 -6.0v12.0zM955.8 536.8l9.6 -6.0v12.0zM956.8 535.7l9.6 -6.0v12.0zM957.8 534.5l9.6 -6.0v12.0zM958.8 533.4l9.6 -6.0v12.0zM959.8 532.2l9.6 -6.0v12.0zM960.8 530.9l9.6 -6.0v12.0zM961.9 529.6l9.6 -6.0v12.0zM962.9 528.3l9.6 -6.0v12.0zM963.9 526.9l9.6 -6.0v12.0zM964.9 525.5l9.6 -6.0v12.0zM966.0 524.0l9.6 -6.0v12.0zM967.0 522.4l9.6 -6.0v12.0zM968.1 520.8l9.6 -6.0v12.0zM969.1 519.0l9.6 -6.0v12.0zM970.2 517.2l9.6 -6.0v12.0zM971.2 515.3l9.6 -6.0v12.0zM972.3 513.3l9.6 -6.0v12.0zM973.4 511.2l9.6 -6.0v12.0zM974.5 508.9l9.6 -6.0v12.0zM975.5 506.6l9.6 -6.0v12.0zM976.6 504.3l9.6 -6.0v12.0zM977.7 501.8l9.6 -6.0v12.0zM978.8 499.3l9.6 -6.0v12.0zM979.9 496.8l9.6 -6.0v12.0zM981.0 494.2l9.6 -6.0v12.0zM982.1 491.6l9.6 -6.0v12.0zM983.3 489.1l9.6 -6.0v12.0zM984.4 486.6l9.6 -6.0v12.0zM985.5 484.2l9.6 -6.0v12.0zM986.7 481.8l9.6 -6.0v12.0zM987.8 479.5l9.6 -6.0v12.0zM988.9 477.3l9.6 -6.0v12.0zM990.1 475.1l9.6 -6.0v12.0zM991.3 473.0l9.6 -6.0v12.0zM992.4 470.9l9.6 -6.0v12.0zM993.6 468.8l9.6 -6.0v12.0zM994.8 466.7l9.6 -6.0v12.0zM996.0 464.7l9.6 -6.0v12.0zM997.1 462.6l9.6 -6.0v12.0zM998.3 460.6l9.6 -6.0v12.0zM999.5 458.5l9.6 -6.0v12.0zM1000.7 456.3l9.6 -6.0v12.0zM1002.0 454.2l9.6 -6.0v12.0zM1003.2 451.9l9.6 -6.0v12.0zM1004.4 449.6l9.6 -6.0v12.0zM1005.6 447.2l9.6 -6.0v12.0zM1006.9 444.7l9.6 -6.0v12.0zM1008.1 442.1l9.6 -6.0v12.0zM1009.4 439.3l9.6 -6.0v12.0zM1010.6 436.4l9.6 -6.0v12.0zM1011.9 433.4l9.6 -6.0v12.0zM1013.2 430.3l9.6 -6.0v12.0zM1014.4 427.0l9.6 -6.0v12.0zM1015.7 423.5l9.6 -6.0v12.0zM1017.0 419.9l9.6 -6.0v12.0zM1018.3 416.1l9.6 -6.0v12.0zM1019.6 412.1l9.6 -6.0v12.0zM1020.9 408.0l9.6 -6.0v12.0zM1022.2 403.7l9.6 -6.0v12.0zM1023.6 399.3l9.6 -6.0v12.0zM1024.9 394.7l9.6 -6.0v12.0zM1026.2 390.0l9.6 -6.0v12.0zM1027.6 385.2l9.6 -6.0v12.0zM1028.9 380.3l9.6 -6.0v12.0zM1030.3 375.4l9.6 -6.0v12.0zM1031.7 370.6l9.6 -6.0v12.0zM1033.0 365.7l9.6 -6.0v12.0zM1034.4 361.0l9.6 -6.0v12.0zM1035.8 356.2l9.6 -6.0v12.0zM1037.2 351.5l9.6 -6.0v12.0zM1038.6 346.8l9.6 -6.0v12.0zM1040.0 342.2l9.6 -6.0v12.0zM1041.5 337.6l9.6 -6.0v12.0zM1042.9 333.0l9.6 -6.0v12.0zM1044.3 328.4l9.6 -6.0v12.0zM1045.8 323.8l9.6 -6.0v12.0zM1047.2 319.3l9.6 -6.0v12.0zM1048.7 314.7l9.6 -6.0v12.0zM1050.2 310.2l9.6 -6.0v12.0zM1051.6 305.6l9.6 -6.0v12.0zM1053.1 301.1l9.6 -6.0v12.0zM1054.6 296.5l9.6 -6.0v12.0zM1056.1 292.0l9.6 -6.0v12.0zM1057.6 287.4l9.6 -6.0v12.0zM1059.2 282.9l9.6 -6.0v12.0zM1060.7 278.3l9.6 -6.0v12.0zM1062.2 273.7l9.6 -6.0v12.0zM1063.8 269.1l9.6 -6.0v12.0zM1065.3 264.5l9.6 -6.0v12.0zM1066.9 259.8l9.6 -6.0v12.0zM1068.5 255.1l9.6 -6.0v12.0zM1070.1 250.4l9.6 -6.0v12.0zM1071.6 245.7l9.6 -6.0v12.0zM1073.2 240.9l9.6 -6.0v12.0zM1074.9 236.1l9.6 -6.0v12.0zM1076.5 231.3l9.6 -6.0v12.0zM1078.1 226.4l9.6 -6.0v12.0zM1079.8 221.5l9.6 -6.0v12.0zM1081.4 216.5l9.6 -6.0v12.0zM1083.1 211.4l9.6 -6.0v12.0zM1084.7 206.3l9.6 -6.0v12.0zM1086.4 201.1l9.6 -6.0v12.0zM1088.1 195.9l9.6 -6.0v12.0zM1089.8 190.5l9.6 -6.0v12.0zM1091.5 185.1l9.6 -6.0v12.0zM1093.2 179.6l9.6 -6.0v12.0zM1095.0 174.0l9.6 -6.0v12.0zM1096.7 168.3l9.6 -6.0v12.0zM1098.5 162.4l9.6 -6.0v12.0zM1100.2 156.5l9.6 -6.0v12.0zM1102.0 150.4l9.6 -6.0v12.0zM1103.8 144.2l9.6 -6.0v12.0zM1105.6 137.8l9.6 -6.0v12.0zM1107.4 131.2l9.6 -6.0v12.0zM1109.2 124.5l9.6 -6.0v12.0zM1111.0 117.6l9.6 -6.0v12.0zM1112.9 110.7l9.6 -6.0v12.0zM1114.7 104.3l9.6 -6.0v12.0zM1116.6 98.5l9.6 -6.0v12.0zM1118.5 93.5l9.6 -6.0v12.0zM1120.4 89.2l9.6 -6.0v12.0zM1122.3 85.5l9.6 -6.0v12.0zM1124.2 82.3l9.6 -6.0v12.0zM1126.1 79.6l9.6 -6.0v12.0zM1128.0 77.2l9.6 -6.0v12.0zM1130.0 75.2l9.6 -6.0v12.0zM1132.0 73.5l9.6 -6.0v12.0zM1133.9 72.1l9.6 -6.0v12.0zM1135.9 70.8l9.6 -6.0v12.0zM1137.9 69.8l9.6 -6.0v12.0zM1139.9 69.0l9.6 -6.0v12.0zM1142.0 68.3l9.6 -6.0v12.0zM1144.0 67.8l9.6 -6.0v12.0zM1146.1 67.4l9.6 -6.0v12.0zM1148.1 67.3l9.6 -6.0v12.0zM1150.2 67.3l9.6 -6.0v12.0zM1152.3 67.6l9.6 -6.0v12.0zM1154.4 68.1l9.6 -6.0v12.0zM1156.6 69.0l9.6 -6.0v12.0zM1158.7 70.2l9.6 -6.0v12.0zM1160.9 72.0l9.6 -6.0v12.0zM1163.0 74.5l9.6 -6.0v12.0zM1165.2 77.6l9.6 -6.0v12.0zM1167.4 81.5l9.6 -6.0v12.0zM1169.6 86.2l9.6 -6.0v12.0zM1171.9 91.3l9.6 -6.0v12.0zM1174.1 96.8l9.6 -6.0v12.0zM1176.4 102.7l9.6 -6.0v12.0zM1178.6 108.8l9.6 -6.0v12.0zM1180.9 115.2l9.6 -6.0v12.0zM1183.2 121.7l9.6 -6.0v12.0zM1185.6 128.3l9.6 -6.0v12.0zM1187.9 134.7l9.6 -6.0v12.0zM1190.3 140.9l9.6 -6.0v12.0zM1192.6 147.1l9.6 -6.0v12.0zM1195.0 153.3l9.6 -6.0v12.0zM1197.4 159.5l9.6 -6.0v12.0zM1199.9 165.7l9.6 -6.0v12.0zM1202.3 172.1l9.6 -6.0v12.0zM1204.8 178.6l9.6 -6.0v12.0zM1207.2 185.4l9.6 -6.0v12.0zM1209.7 192.5l9.6 -6.0v12.0zM1212.3 200.0l9.6 -6.0v12.0zM1214.8 208.2l9.6 -6.0v12.0zM1217.4 217.3l9.6 -6.0v12.0zM1219.9 227.9l9.6 -6.0v12.0zM1222.5 240.9l9.6 -6.0v12.0zM1225.1 254.5l9.6 -6.0v12.0zM1227.8 265.5l9.6 -6.0v12.0zM1230.4 273.7l9.6 -6.0v12.0zM1233.1 280.1l9.6 -6.0v12.0zM1235.8 285.2l9.6 -6.0v12.0zM1238.5 289.5l9.6 -6.0v12.0z" fill="none" stroke="#008000" stroke-width="3.0" stroke-linejoin="miter"/><line x1="1061.5" y1="677.0" x2="1117.8" y2="470.0" stroke="#000000" stroke-width="0.9" stroke-opacity="0.8"/><line x1="1089.5" y1="677.0" x2="1131.9" y2="520.0" stroke="#ff0000" stroke-width="0.9" stroke-opacity="0.8"/><line x1="935.0" y1="677.0" x2="1021.1" y2="380.0" stroke="#ff8000" stroke-width="0.9" stroke-opacity="0.8"/><line x1="944.0" y1="677.0" x2="1012.1" y2="420.0" stroke="#008000" stroke-width="0.9" stroke-opacity="0.8"/><line x1="953.5" y1="677.0" x2="1011.5" y2="470.0" stroke="#0000ff" stroke-width="0.9" stroke-opacity="0.8"/><path d="M706.0,23.8H1246.6V677.3H706.0Z" fill="none" stroke="#000" stroke-width="4.6" stroke-linejoin="round"/><path d="M711.8,677.3v5.8M726.9,677.3v5.8M741.9,677.3v5.8M757.0,677.3v13.1M772.1,677.3v5.8M787.1,677.3v5.8M802.2,677.3v5.8M817.3,677.3v5.8M832.4,677.3v13.1M847.4,677.3v5.8M862.5,677.3v5.8M877.6,677.3v5.8M892.6,677.3v5.8M907.7,677.3v13.1M922.8,677.3v5.8M937.8,677.3v5.8M952.9,677.3v5.8M968.0,677.3v5.8M983.0,677.3v13.1M998.1,677.3v5.8M1013.2,677.3v5.8M1028.3,677.3v5.8M1043.3,677.3v5.8M1058.4,677.3v13.1M1073.5,677.3v5.8M1088.5,677.3v5.8M1103.6,677.3v5.8M1118.7,677.3v5.8M1133.8,677.3v13.1M1148.8,677.3v5.8M1163.9,677.3v5.8M1179.0,677.3v5.8M1194.0,677.3v5.8M1209.1,677.3v13.1M1224.2,677.3v5.8M1239.2,677.3v5.8M706.0,600.1h5.8M706.0,523.2h13.3M706.0,446.3h5.8M706.0,369.4h13.3M706.0,292.5h5.8M706.0,215.6h13.3M706.0,138.7h5.8M706.0,61.8h13.3" stroke="#000" stroke-width="4.4" stroke-linecap="round" fill="none"/><text x="757.0" y="726" font-size="31" font-weight="bold" text-anchor="middle">1.5</text><text x="832.4" y="726" font-size="31" font-weight="bold" text-anchor="middle">2.0</text><text x="907.7" y="726" font-size="31" font-weight="bold" text-anchor="middle">2.5</text><text x="983.0" y="726" font-size="31" font-weight="bold" text-anchor="middle">3.0</text><text x="1058.4" y="726" font-size="31" font-weight="bold" text-anchor="middle">3.5</text><text x="1133.8" y="726" font-size="31" font-weight="bold" text-anchor="middle">4.0</text><text x="1209.1" y="726" font-size="31" font-weight="bold" text-anchor="middle">4.5</text><text x="690" y="688.3" font-size="39.5" font-weight="bold" text-anchor="end">0</text><text x="690" y="534.5" font-size="39.5" font-weight="bold" text-anchor="end">2</text><text x="690" y="380.7" font-size="39.5" font-weight="bold" text-anchor="end">4</text><text x="690" y="226.9" font-size="39.5" font-weight="bold" text-anchor="end">6</text><text x="690" y="73.1" font-size="39.5" font-weight="bold" text-anchor="end">8</text><text x="977" y="772" font-size="43" text-anchor="middle">Photon energy (hν, eV)</text><text transform="translate(654.5,384.2) rotate(-90)" font-size="42.5" font-weight="bold" text-anchor="middle">(αhν)<tspan dy="-23" font-size="23">2</tspan><tspan dy="23"> x 10</tspan><tspan dy="-23" font-size="23">7</tspan><tspan dy="23"> (eV/m)</tspan></text><rect x="736.4" y="62.4" width="11.2" height="11.2" fill="none" stroke="#000000" stroke-width="3.4"/><text x="778" y="76.5" font-size="26" font-weight="bold">1) SnO2</text><circle cx="742.0" cy="101.2" r="7.1" fill="none" stroke="#ff0000" stroke-width="3.1"/><text x="778" y="109.7" font-size="26" font-weight="bold">2) SnO2:Ir</text><path d="M742.0,126.6l8,13h-16z" fill="none" stroke="#0000ff" stroke-width="3.4" stroke-linejoin="round"/><text x="778" y="142.9" font-size="26" font-weight="bold">3) 1.5% Ni-doped SnO2:Ir</text><path d="M742.0,175.4l8,-13h-16z" fill="none" stroke="#ff8000" stroke-width="3.4" stroke-linejoin="round"/><text x="778" y="176.1" font-size="26" font-weight="bold">4) 3.0% Ni-doped SnO2:Ir</text><path d="M734.2,200.8l13,-8v16z" fill="none" stroke="#008000" stroke-width="3.4" stroke-linejoin="round"/><text x="778" y="209.3" font-size="26" font-weight="bold">5) 4.5% Ni-doped SnO2:Ir</text><text x="1001" y="60" font-size="47" font-weight="bold">(b)</text><text x="1130.5" y="343.5" font-size="31" font-weight="bold" fill="#000000">1</text><text x="1162.5" y="470.5" font-size="33" font-weight="bold" fill="#ff0000">2</text><text x="1007.5" y="545.5" font-size="33" font-weight="bold" fill="#0000ff">3</text><text x="929.5" y="623.5" font-size="32" font-weight="bold" fill="#ff8000">4</text><text x="1005.5" y="594.5" font-size="28" font-weight="bold" fill="#008000">5</text><path d="M1006.5,591.8L975,602" stroke="#008000" stroke-width="1.6"/><path d="M960.2,606.4L976.5,597.5L979,606.5Z" fill="#008000"/></svg></body></html>
